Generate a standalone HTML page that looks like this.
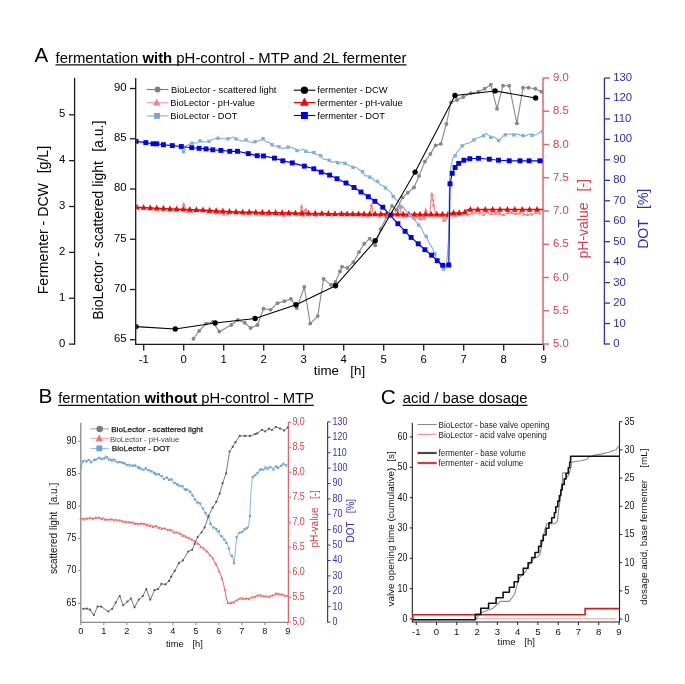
<!DOCTYPE html>
<html><head><meta charset="utf-8"><style>
html,body{margin:0;padding:0;background:#fff;overflow:hidden;}
svg{display:block;filter:blur(0.3px);}
text{font-family:"Liberation Sans",sans-serif;}
</style></head><body>
<svg width="685" height="684" viewBox="0 0 685 684">
<rect width="685" height="684" fill="#fff"/>
<text x="34.5" y="62" font-size="20.5" fill="#000" text-anchor="start" font-weight="normal" >A</text>
<text x="55.5" y="62.6" font-size="14.9">fermentation <tspan font-weight="bold">with</tspan> pH-control - MTP and 2L fermenter</text>
<line x1="55.5" y1="64.9" x2="406.5" y2="64.9" stroke="#111" stroke-width="1.2"/>
<line x1="74.6" y1="78" x2="74.6" y2="344.7" stroke="#1a1a1a" stroke-width="1.3"/>
<line x1="69.1" y1="344.1" x2="74.6" y2="344.1" stroke="#1a1a1a" stroke-width="1.3"/>
<text x="65.4" y="346.7" font-size="11.3" fill="#000" text-anchor="end" font-weight="normal" >0</text>
<line x1="69.1" y1="298.24" x2="74.6" y2="298.24" stroke="#1a1a1a" stroke-width="1.3"/>
<text x="65.4" y="300.84" font-size="11.3" fill="#000" text-anchor="end" font-weight="normal" >1</text>
<line x1="69.1" y1="252.38" x2="74.6" y2="252.38" stroke="#1a1a1a" stroke-width="1.3"/>
<text x="65.4" y="254.98" font-size="11.3" fill="#000" text-anchor="end" font-weight="normal" >2</text>
<line x1="69.1" y1="206.52" x2="74.6" y2="206.52" stroke="#1a1a1a" stroke-width="1.3"/>
<text x="65.4" y="209.12" font-size="11.3" fill="#000" text-anchor="end" font-weight="normal" >3</text>
<line x1="69.1" y1="160.66" x2="74.6" y2="160.66" stroke="#1a1a1a" stroke-width="1.3"/>
<text x="65.4" y="163.26" font-size="11.3" fill="#000" text-anchor="end" font-weight="normal" >4</text>
<line x1="69.1" y1="114.8" x2="74.6" y2="114.8" stroke="#1a1a1a" stroke-width="1.3"/>
<text x="65.4" y="117.4" font-size="11.3" fill="#000" text-anchor="end" font-weight="normal" >5</text>
<text transform="translate(47.9,294.3) rotate(-90)" font-size="14.1" fill="#000" text-anchor="start" >Fermenter - DCW</text>
<text transform="translate(47.9,173.3) rotate(-90)" font-size="14.1" fill="#000" text-anchor="start" >[g/L]</text>
<line x1="135.7" y1="78" x2="135.7" y2="345" stroke="#1a1a1a" stroke-width="1.3"/>
<line x1="130" y1="339.75" x2="135.7" y2="339.75" stroke="#1a1a1a" stroke-width="1.3"/>
<text x="126.5" y="342.05" font-size="11.3" fill="#000" text-anchor="end" font-weight="normal" >65</text>
<line x1="130" y1="289.5" x2="135.7" y2="289.5" stroke="#1a1a1a" stroke-width="1.3"/>
<text x="126.5" y="291.8" font-size="11.3" fill="#000" text-anchor="end" font-weight="normal" >70</text>
<line x1="130" y1="239.25" x2="135.7" y2="239.25" stroke="#1a1a1a" stroke-width="1.3"/>
<text x="126.5" y="241.55" font-size="11.3" fill="#000" text-anchor="end" font-weight="normal" >75</text>
<line x1="130" y1="189" x2="135.7" y2="189" stroke="#1a1a1a" stroke-width="1.3"/>
<text x="126.5" y="191.3" font-size="11.3" fill="#000" text-anchor="end" font-weight="normal" >80</text>
<line x1="130" y1="138.75" x2="135.7" y2="138.75" stroke="#1a1a1a" stroke-width="1.3"/>
<text x="126.5" y="141.05" font-size="11.3" fill="#000" text-anchor="end" font-weight="normal" >85</text>
<line x1="130" y1="88.5" x2="135.7" y2="88.5" stroke="#1a1a1a" stroke-width="1.3"/>
<text x="126.5" y="90.8" font-size="11.3" fill="#000" text-anchor="end" font-weight="normal" >90</text>
<text transform="translate(103.4,319.8) rotate(-90)" font-size="14" fill="#000" text-anchor="start" >BioLector - scattered light</text>
<text transform="translate(103.4,151.8) rotate(-90)" font-size="14" fill="#000" text-anchor="start" >[a.u.]</text>
<line x1="135.1" y1="344.4" x2="543" y2="344.4" stroke="#1a1a1a" stroke-width="1.3"/>
<line x1="143.7" y1="344.4" x2="143.7" y2="350.6" stroke="#1a1a1a" stroke-width="1.3"/>
<text x="143.7" y="362.6" font-size="11.3" fill="#000" text-anchor="middle" font-weight="normal" >-1</text>
<line x1="183.7" y1="344.4" x2="183.7" y2="350.6" stroke="#1a1a1a" stroke-width="1.3"/>
<text x="183.7" y="362.6" font-size="11.3" fill="#000" text-anchor="middle" font-weight="normal" >0</text>
<line x1="223.7" y1="344.4" x2="223.7" y2="350.6" stroke="#1a1a1a" stroke-width="1.3"/>
<text x="223.7" y="362.6" font-size="11.3" fill="#000" text-anchor="middle" font-weight="normal" >1</text>
<line x1="263.7" y1="344.4" x2="263.7" y2="350.6" stroke="#1a1a1a" stroke-width="1.3"/>
<text x="263.7" y="362.6" font-size="11.3" fill="#000" text-anchor="middle" font-weight="normal" >2</text>
<line x1="303.7" y1="344.4" x2="303.7" y2="350.6" stroke="#1a1a1a" stroke-width="1.3"/>
<text x="303.7" y="362.6" font-size="11.3" fill="#000" text-anchor="middle" font-weight="normal" >3</text>
<line x1="343.7" y1="344.4" x2="343.7" y2="350.6" stroke="#1a1a1a" stroke-width="1.3"/>
<text x="343.7" y="362.6" font-size="11.3" fill="#000" text-anchor="middle" font-weight="normal" >4</text>
<line x1="383.7" y1="344.4" x2="383.7" y2="350.6" stroke="#1a1a1a" stroke-width="1.3"/>
<text x="383.7" y="362.6" font-size="11.3" fill="#000" text-anchor="middle" font-weight="normal" >5</text>
<line x1="423.7" y1="344.4" x2="423.7" y2="350.6" stroke="#1a1a1a" stroke-width="1.3"/>
<text x="423.7" y="362.6" font-size="11.3" fill="#000" text-anchor="middle" font-weight="normal" >6</text>
<line x1="463.7" y1="344.4" x2="463.7" y2="350.6" stroke="#1a1a1a" stroke-width="1.3"/>
<text x="463.7" y="362.6" font-size="11.3" fill="#000" text-anchor="middle" font-weight="normal" >7</text>
<line x1="503.7" y1="344.4" x2="503.7" y2="350.6" stroke="#1a1a1a" stroke-width="1.3"/>
<text x="503.7" y="362.6" font-size="11.3" fill="#000" text-anchor="middle" font-weight="normal" >8</text>
<line x1="543.7" y1="344.4" x2="543.7" y2="350.6" stroke="#1a1a1a" stroke-width="1.3"/>
<text x="543.7" y="362.6" font-size="11.3" fill="#000" text-anchor="middle" font-weight="normal" >9</text>
<text x="313.8" y="375.1" font-size="13.3" fill="#000" text-anchor="start" font-weight="normal" >time</text>
<text x="350.3" y="375.1" font-size="13.3" fill="#000" text-anchor="start" font-weight="normal" >[h]</text>
<line x1="543" y1="78" x2="543" y2="344.5" stroke="#e0646c" stroke-width="1.5"/>
<line x1="543" y1="344" x2="549" y2="344" stroke="#e0646c" stroke-width="1.4"/>
<text x="553" y="347" font-size="11.3" fill="#d8404a" text-anchor="start" font-weight="normal" >5.0</text>
<line x1="543" y1="310.75" x2="549" y2="310.75" stroke="#e0646c" stroke-width="1.4"/>
<text x="553" y="313.75" font-size="11.3" fill="#d8404a" text-anchor="start" font-weight="normal" >5.5</text>
<line x1="543" y1="277.5" x2="549" y2="277.5" stroke="#e0646c" stroke-width="1.4"/>
<text x="553" y="280.5" font-size="11.3" fill="#d8404a" text-anchor="start" font-weight="normal" >6.0</text>
<line x1="543" y1="244.25" x2="549" y2="244.25" stroke="#e0646c" stroke-width="1.4"/>
<text x="553" y="247.25" font-size="11.3" fill="#d8404a" text-anchor="start" font-weight="normal" >6.5</text>
<line x1="543" y1="211" x2="549" y2="211" stroke="#e0646c" stroke-width="1.4"/>
<text x="553" y="214" font-size="11.3" fill="#d8404a" text-anchor="start" font-weight="normal" >7.0</text>
<line x1="543" y1="177.75" x2="549" y2="177.75" stroke="#e0646c" stroke-width="1.4"/>
<text x="553" y="180.75" font-size="11.3" fill="#d8404a" text-anchor="start" font-weight="normal" >7.5</text>
<line x1="543" y1="144.5" x2="549" y2="144.5" stroke="#e0646c" stroke-width="1.4"/>
<text x="553" y="147.5" font-size="11.3" fill="#d8404a" text-anchor="start" font-weight="normal" >8.0</text>
<line x1="543" y1="111.25" x2="549" y2="111.25" stroke="#e0646c" stroke-width="1.4"/>
<text x="553" y="114.25" font-size="11.3" fill="#d8404a" text-anchor="start" font-weight="normal" >8.5</text>
<line x1="543" y1="78" x2="549" y2="78" stroke="#e0646c" stroke-width="1.4"/>
<text x="553" y="81" font-size="11.3" fill="#d8404a" text-anchor="start" font-weight="normal" >9.0</text>
<text transform="translate(587.5,258.5) rotate(-90)" font-size="14" fill="#d8404a" text-anchor="start" >pH-value</text>
<text transform="translate(587.5,191.5) rotate(-90)" font-size="14" fill="#d8404a" text-anchor="start" >[-]</text>
<line x1="604.4" y1="78" x2="604.4" y2="344.5" stroke="#3434a8" stroke-width="1.3"/>
<line x1="604.4" y1="344" x2="610" y2="344" stroke="#3434a8" stroke-width="1.3"/>
<text x="613.3" y="347" font-size="11.3" fill="#2e2eb0" text-anchor="start" font-weight="normal" >0</text>
<line x1="604.4" y1="323.54" x2="610" y2="323.54" stroke="#3434a8" stroke-width="1.3"/>
<text x="613.3" y="326.54" font-size="11.3" fill="#2e2eb0" text-anchor="start" font-weight="normal" >10</text>
<line x1="604.4" y1="303.08" x2="610" y2="303.08" stroke="#3434a8" stroke-width="1.3"/>
<text x="613.3" y="306.08" font-size="11.3" fill="#2e2eb0" text-anchor="start" font-weight="normal" >20</text>
<line x1="604.4" y1="282.62" x2="610" y2="282.62" stroke="#3434a8" stroke-width="1.3"/>
<text x="613.3" y="285.62" font-size="11.3" fill="#2e2eb0" text-anchor="start" font-weight="normal" >30</text>
<line x1="604.4" y1="262.16" x2="610" y2="262.16" stroke="#3434a8" stroke-width="1.3"/>
<text x="613.3" y="265.16" font-size="11.3" fill="#2e2eb0" text-anchor="start" font-weight="normal" >40</text>
<line x1="604.4" y1="241.7" x2="610" y2="241.7" stroke="#3434a8" stroke-width="1.3"/>
<text x="613.3" y="244.7" font-size="11.3" fill="#2e2eb0" text-anchor="start" font-weight="normal" >50</text>
<line x1="604.4" y1="221.24" x2="610" y2="221.24" stroke="#3434a8" stroke-width="1.3"/>
<text x="613.3" y="224.24" font-size="11.3" fill="#2e2eb0" text-anchor="start" font-weight="normal" >60</text>
<line x1="604.4" y1="200.78" x2="610" y2="200.78" stroke="#3434a8" stroke-width="1.3"/>
<text x="613.3" y="203.78" font-size="11.3" fill="#2e2eb0" text-anchor="start" font-weight="normal" >70</text>
<line x1="604.4" y1="180.32" x2="610" y2="180.32" stroke="#3434a8" stroke-width="1.3"/>
<text x="613.3" y="183.32" font-size="11.3" fill="#2e2eb0" text-anchor="start" font-weight="normal" >80</text>
<line x1="604.4" y1="159.86" x2="610" y2="159.86" stroke="#3434a8" stroke-width="1.3"/>
<text x="613.3" y="162.86" font-size="11.3" fill="#2e2eb0" text-anchor="start" font-weight="normal" >90</text>
<line x1="604.4" y1="139.4" x2="610" y2="139.4" stroke="#3434a8" stroke-width="1.3"/>
<text x="613.3" y="142.4" font-size="11.3" fill="#2e2eb0" text-anchor="start" font-weight="normal" >100</text>
<line x1="604.4" y1="118.94" x2="610" y2="118.94" stroke="#3434a8" stroke-width="1.3"/>
<text x="613.3" y="121.94" font-size="11.3" fill="#2e2eb0" text-anchor="start" font-weight="normal" >110</text>
<line x1="604.4" y1="98.48" x2="610" y2="98.48" stroke="#3434a8" stroke-width="1.3"/>
<text x="613.3" y="101.48" font-size="11.3" fill="#2e2eb0" text-anchor="start" font-weight="normal" >120</text>
<line x1="604.4" y1="78.02" x2="610" y2="78.02" stroke="#3434a8" stroke-width="1.3"/>
<text x="613.3" y="81.02" font-size="11.3" fill="#2e2eb0" text-anchor="start" font-weight="normal" >130</text>
<text transform="translate(647.5,248.8) rotate(-90)" font-size="14" fill="#2e2eb0" text-anchor="start" >DOT</text>
<text transform="translate(647.5,209) rotate(-90)" font-size="14" fill="#2e2eb0" text-anchor="start" >[%]</text>
<defs><clipPath id="clipA"><rect x="136.3" y="70" width="407" height="274"/></clipPath></defs><g clip-path="url(#clipA)">
<polyline points="183.6,203.8 185.6,209.94 187.6,211.52 189.6,209.86 191.6,211.33 193.6,210.9 195.6,210.06 197.6,211.49 199.6,210.16 201.6,211.42 203.6,210.41 205.6,210.56 207.6,211.64 209.6,212.92 211.6,210.9 213.6,211.27 215.6,212.57 217.6,213.61 219.6,212.58 221.6,212.11 223.6,213.93 225.6,211.22 227.6,213.74 229.6,212.11 231.6,211.76 233.6,211.76 235.6,212.41 237.6,213.97 239.6,212.09 241.6,213.31 243.6,213.51 245.6,212.74 247.6,213.29 249.6,211.86 251.6,211.87 253.6,212.34 255.6,213.79 257.6,213.05 259.6,212.74 261.6,213.58 263.6,213.2 265.6,212.77 267.6,214.28 269.6,214.02 271.6,212.68 273.6,213.69 275.6,213.57 277.6,214.65 279.6,214.23 281.6,212.93 283.6,215.04 285.6,212.47 287.6,213.4 289.6,214.44 291.6,212.65 293.6,213.69 295.6,212.36 297.6,214.27 299.6,214.59 301.6,205.7 303.6,214.97 305.6,208.8 307.6,214.48 309.6,214.2 311.6,214.18 313.6,213.84 315.6,215.01 317.6,215.35 319.6,213.97 321.6,214.56 323.6,212.78 325.6,214.72 327.6,214.59 329.6,215.65 331.6,215.16 333.6,213.57 335.6,213.9 337.6,214.78 339.6,212.86 341.6,214.2 343.6,213.35 345.6,213.22 347.6,213.07 349.6,215.22 351.6,213.32 353.6,213.7 355.6,214.15 357.6,215.62 359.6,213.27 361.6,214.4 363.6,214.72 365.6,215.75 367.6,215.58 369.6,215.74 371.6,204.6 373.6,214.44 375.6,214.29 377.6,215.89 379.6,216.14 381.6,213.74 383.6,213.84 385.6,214.03 387.6,214.06 389.6,214.83 391.6,215.17 393.6,214.21 395.6,213.46 397.6,214.73 399.6,205.3 401.6,215.23 403.6,216.43 405.6,215.69 407.6,215.2 409.6,215.55 411.6,215.77 413.6,218.4 415.6,216.52 417.6,216.21 419.6,218.4 421.6,216.34 423.6,218.4 425.6,208.4 427.6,214.39 429.6,216.02 431.6,193.8 433.6,203 435.6,214.87 437.6,214.77 439.6,215.35 441.6,214.52 443.6,220 445.6,221 447.6,214.8 449.6,215.39 451.6,214.13 453.6,216.39 455.6,215.33 457.6,213.65 459.6,213.67 461.6,213.67 463.6,213.44 465.6,212.43 467.6,214.43 469.6,214.71 471.6,213.1 473.6,213.15 475.6,211.96 477.6,212.01 479.6,212.73 481.6,212.49 483.6,214.19 485.6,212.18 487.6,211.77 489.6,214.55 491.6,213.28 493.6,212.14 495.6,213.33 497.6,211.78 499.6,213.28 501.6,214.64 503.6,214.29 505.6,213.79 507.6,212.48 509.6,212.8 511.6,212.2 513.6,214.02 515.6,213.3 517.6,214.04 519.6,212.69 521.6,212.37 523.6,214.13 525.6,214.65 527.6,214.26 529.6,214.12 531.6,214.15 533.6,213.92 535.6,212.38 537.6,213.25 539.6,212.77" fill="none" stroke="#f08a8a" stroke-width="1.2" stroke-linejoin="round" />
<polygon points="181.9,205.5 185.3,205.5 183.6,202.1" fill="#f08a8a"/>
<polygon points="185.9,213.22 189.3,213.22 187.6,209.82" fill="#f08a8a"/>
<polygon points="189.9,213.03 193.3,213.03 191.6,209.63" fill="#f08a8a"/>
<polygon points="193.9,211.76 197.3,211.76 195.6,208.36" fill="#f08a8a"/>
<polygon points="197.9,211.86 201.3,211.86 199.6,208.46" fill="#f08a8a"/>
<polygon points="201.9,212.11 205.3,212.11 203.6,208.71" fill="#f08a8a"/>
<polygon points="205.9,213.34 209.3,213.34 207.6,209.94" fill="#f08a8a"/>
<polygon points="209.9,212.6 213.3,212.6 211.6,209.2" fill="#f08a8a"/>
<polygon points="213.9,214.27 217.3,214.27 215.6,210.87" fill="#f08a8a"/>
<polygon points="217.9,214.28 221.3,214.28 219.6,210.88" fill="#f08a8a"/>
<polygon points="221.9,215.63 225.3,215.63 223.6,212.23" fill="#f08a8a"/>
<polygon points="225.9,215.44 229.3,215.44 227.6,212.04" fill="#f08a8a"/>
<polygon points="229.9,213.46 233.3,213.46 231.6,210.06" fill="#f08a8a"/>
<polygon points="233.9,214.11 237.3,214.11 235.6,210.71" fill="#f08a8a"/>
<polygon points="237.9,213.79 241.3,213.79 239.6,210.39" fill="#f08a8a"/>
<polygon points="241.9,215.21 245.3,215.21 243.6,211.81" fill="#f08a8a"/>
<polygon points="245.9,214.99 249.3,214.99 247.6,211.59" fill="#f08a8a"/>
<polygon points="249.9,213.57 253.3,213.57 251.6,210.17" fill="#f08a8a"/>
<polygon points="253.9,215.49 257.3,215.49 255.6,212.09" fill="#f08a8a"/>
<polygon points="257.9,214.44 261.3,214.44 259.6,211.04" fill="#f08a8a"/>
<polygon points="261.9,214.9 265.3,214.9 263.6,211.5" fill="#f08a8a"/>
<polygon points="265.9,215.98 269.3,215.98 267.6,212.58" fill="#f08a8a"/>
<polygon points="269.9,214.38 273.3,214.38 271.6,210.98" fill="#f08a8a"/>
<polygon points="273.9,215.27 277.3,215.27 275.6,211.87" fill="#f08a8a"/>
<polygon points="277.9,215.93 281.3,215.93 279.6,212.53" fill="#f08a8a"/>
<polygon points="281.9,216.74 285.3,216.74 283.6,213.34" fill="#f08a8a"/>
<polygon points="285.9,215.1 289.3,215.1 287.6,211.7" fill="#f08a8a"/>
<polygon points="289.9,214.35 293.3,214.35 291.6,210.95" fill="#f08a8a"/>
<polygon points="293.9,214.06 297.3,214.06 295.6,210.66" fill="#f08a8a"/>
<polygon points="297.9,216.29 301.3,216.29 299.6,212.89" fill="#f08a8a"/>
<polygon points="301.9,216.67 305.3,216.67 303.6,213.27" fill="#f08a8a"/>
<polygon points="305.9,216.18 309.3,216.18 307.6,212.78" fill="#f08a8a"/>
<polygon points="309.9,215.88 313.3,215.88 311.6,212.48" fill="#f08a8a"/>
<polygon points="313.9,216.71 317.3,216.71 315.6,213.31" fill="#f08a8a"/>
<polygon points="317.9,215.67 321.3,215.67 319.6,212.27" fill="#f08a8a"/>
<polygon points="321.9,214.48 325.3,214.48 323.6,211.08" fill="#f08a8a"/>
<polygon points="325.9,216.29 329.3,216.29 327.6,212.89" fill="#f08a8a"/>
<polygon points="329.9,216.86 333.3,216.86 331.6,213.46" fill="#f08a8a"/>
<polygon points="333.9,215.6 337.3,215.6 335.6,212.2" fill="#f08a8a"/>
<polygon points="337.9,214.56 341.3,214.56 339.6,211.16" fill="#f08a8a"/>
<polygon points="341.9,215.05 345.3,215.05 343.6,211.65" fill="#f08a8a"/>
<polygon points="345.9,214.77 349.3,214.77 347.6,211.37" fill="#f08a8a"/>
<polygon points="349.9,215.02 353.3,215.02 351.6,211.62" fill="#f08a8a"/>
<polygon points="353.9,215.85 357.3,215.85 355.6,212.45" fill="#f08a8a"/>
<polygon points="357.9,214.97 361.3,214.97 359.6,211.57" fill="#f08a8a"/>
<polygon points="361.9,216.42 365.3,216.42 363.6,213.02" fill="#f08a8a"/>
<polygon points="365.9,217.28 369.3,217.28 367.6,213.88" fill="#f08a8a"/>
<polygon points="369.9,206.3 373.3,206.3 371.6,202.9" fill="#f08a8a"/>
<polygon points="373.9,215.99 377.3,215.99 375.6,212.59" fill="#f08a8a"/>
<polygon points="377.9,217.84 381.3,217.84 379.6,214.44" fill="#f08a8a"/>
<polygon points="381.9,215.54 385.3,215.54 383.6,212.14" fill="#f08a8a"/>
<polygon points="385.9,215.76 389.3,215.76 387.6,212.36" fill="#f08a8a"/>
<polygon points="389.9,216.87 393.3,216.87 391.6,213.47" fill="#f08a8a"/>
<polygon points="393.9,215.16 397.3,215.16 395.6,211.76" fill="#f08a8a"/>
<polygon points="397.9,207 401.3,207 399.6,203.6" fill="#f08a8a"/>
<polygon points="401.9,218.13 405.3,218.13 403.6,214.73" fill="#f08a8a"/>
<polygon points="405.9,216.9 409.3,216.9 407.6,213.5" fill="#f08a8a"/>
<polygon points="409.9,217.47 413.3,217.47 411.6,214.07" fill="#f08a8a"/>
<polygon points="413.9,218.22 417.3,218.22 415.6,214.82" fill="#f08a8a"/>
<polygon points="417.9,220.1 421.3,220.1 419.6,216.7" fill="#f08a8a"/>
<polygon points="421.9,220.1 425.3,220.1 423.6,216.7" fill="#f08a8a"/>
<polygon points="425.9,216.09 429.3,216.09 427.6,212.69" fill="#f08a8a"/>
<polygon points="429.9,195.5 433.3,195.5 431.6,192.1" fill="#f08a8a"/>
<polygon points="433.9,216.57 437.3,216.57 435.6,213.17" fill="#f08a8a"/>
<polygon points="437.9,217.05 441.3,217.05 439.6,213.65" fill="#f08a8a"/>
<polygon points="441.9,221.7 445.3,221.7 443.6,218.3" fill="#f08a8a"/>
<polygon points="445.9,216.5 449.3,216.5 447.6,213.1" fill="#f08a8a"/>
<polygon points="449.9,215.83 453.3,215.83 451.6,212.43" fill="#f08a8a"/>
<polygon points="453.9,217.03 457.3,217.03 455.6,213.63" fill="#f08a8a"/>
<polygon points="457.9,215.37 461.3,215.37 459.6,211.97" fill="#f08a8a"/>
<polygon points="461.9,215.14 465.3,215.14 463.6,211.74" fill="#f08a8a"/>
<polygon points="465.9,216.13 469.3,216.13 467.6,212.73" fill="#f08a8a"/>
<polygon points="469.9,214.8 473.3,214.8 471.6,211.4" fill="#f08a8a"/>
<polygon points="473.9,213.66 477.3,213.66 475.6,210.26" fill="#f08a8a"/>
<polygon points="477.9,214.43 481.3,214.43 479.6,211.03" fill="#f08a8a"/>
<polygon points="481.9,215.89 485.3,215.89 483.6,212.49" fill="#f08a8a"/>
<polygon points="485.9,213.47 489.3,213.47 487.6,210.07" fill="#f08a8a"/>
<polygon points="489.9,214.98 493.3,214.98 491.6,211.58" fill="#f08a8a"/>
<polygon points="493.9,215.03 497.3,215.03 495.6,211.63" fill="#f08a8a"/>
<polygon points="497.9,214.98 501.3,214.98 499.6,211.58" fill="#f08a8a"/>
<polygon points="501.9,215.99 505.3,215.99 503.6,212.59" fill="#f08a8a"/>
<polygon points="505.9,214.18 509.3,214.18 507.6,210.78" fill="#f08a8a"/>
<polygon points="509.9,213.9 513.3,213.9 511.6,210.5" fill="#f08a8a"/>
<polygon points="513.9,215 517.3,215 515.6,211.6" fill="#f08a8a"/>
<polygon points="517.9,214.39 521.3,214.39 519.6,210.99" fill="#f08a8a"/>
<polygon points="521.9,215.83 525.3,215.83 523.6,212.43" fill="#f08a8a"/>
<polygon points="525.9,215.96 529.3,215.96 527.6,212.56" fill="#f08a8a"/>
<polygon points="529.9,215.85 533.3,215.85 531.6,212.45" fill="#f08a8a"/>
<polygon points="533.9,214.08 537.3,214.08 535.6,210.68" fill="#f08a8a"/>
<polygon points="537.9,214.47 541.3,214.47 539.6,211.07" fill="#f08a8a"/>
<polygon points="430.4,196.4 434.2,196.4 432.3,192.6" fill="#f08a8a"/>
<polygon points="430.9,201.4 434.7,201.4 432.8,197.6" fill="#f08a8a"/>
<polygon points="431.4,206.4 435.2,206.4 433.3,202.6" fill="#f08a8a"/>
<polygon points="369.4,206.9 373.2,206.9 371.3,203.1" fill="#f08a8a"/>
<polygon points="397.1,207.4 400.9,207.4 399,203.6" fill="#f08a8a"/>
<polygon points="181.7,205.9 185.5,205.9 183.6,202.1" fill="#f08a8a"/>
<polygon points="299.7,207.9 303.5,207.9 301.6,204.1" fill="#f08a8a"/>
<polygon points="303.9,210.9 307.7,210.9 305.8,207.1" fill="#f08a8a"/>
<polygon points="412.3,219.9 416.1,219.9 414.2,216.1" fill="#f08a8a"/>
<polygon points="418.5,220.3 422.3,220.3 420.4,216.5" fill="#f08a8a"/>
<polygon points="422.3,219.9 426.1,219.9 424.2,216.1" fill="#f08a8a"/>
<polygon points="442.1,221.4 445.9,221.4 444,217.6" fill="#f08a8a"/>
<polyline points="136,207.4 137,207.44 138,207.48 139,207.52 140,207.56 141,207.61 142,207.65 143,207.69 144,207.73 145,207.77 146,207.81 147,207.85 148,207.89 149,207.93 150,207.97 151,208.02 152,208.06 153,208.1 154,208.14 155,208.18 156,208.22 157,208.26 158,208.3 159,208.34 160,208.38 161,208.43 162,208.47 163,208.51 164,208.55 165,208.59 166,208.63 167,208.67 168,208.71 169,208.75 170,208.79 171,208.84 172,208.88 173,208.92 174,208.96 175,209 176,209.04 177,209.09 178,209.13 179,209.17 180,209.21 181,209.26 182,209.3 183,209.34 184,209.39 185,209.43 186,209.47 187,209.51 188,209.56 189,209.6 190,209.64 191,209.69 192,209.73 193,209.77 194,209.81 195,209.86 196,209.9 197,209.94 198,209.99 199,210.03 200,210.07 201,210.11 202,210.16 203,210.2 204,210.24 205,210.29 206,210.33 207,210.37 208,210.41 209,210.46 210,210.5 211,210.56 212,210.62 213,210.67 214,210.73 215,210.79 216,210.85 217,210.9 218,210.96 219,211.02 220,211.08 221,211.13 222,211.19 223,211.25 224,211.31 225,211.37 226,211.42 227,211.48 228,211.54 229,211.6 230,211.65 231,211.71 232,211.77 233,211.83 234,211.88 235,211.94 236,212 237,212.02 238,212.04 239,212.06 240,212.07 241,212.09 242,212.11 243,212.13 244,212.15 245,212.17 246,212.19 247,212.2 248,212.22 249,212.24 250,212.26 251,212.28 252,212.3 253,212.31 254,212.33 255,212.35 256,212.37 257,212.39 258,212.41 259,212.43 260,212.44 261,212.46 262,212.48 263,212.5 264,212.52 265,212.54 266,212.56 267,212.57 268,212.59 269,212.61 270,212.63 271,212.65 272,212.67 273,212.69 274,212.7 275,212.72 276,212.74 277,212.76 278,212.78 279,212.8 280,212.81 281,212.83 282,212.85 283,212.87 284,212.89 285,212.91 286,212.93 287,212.94 288,212.96 289,212.98 290,213 291,213.02 292,213.04 293,213.06 294,213.08 295,213.1 296,213.12 297,213.14 298,213.16 299,213.18 300,213.2 301,213.22 302,213.24 303,213.26 304,213.28 305,213.3 306,213.32 307,213.34 308,213.36 309,213.38 310,213.4 311,213.42 312,213.44 313,213.46 314,213.48 315,213.5 316,213.52 317,213.54 318,213.56 319,213.58 320,213.6 321,213.62 322,213.64 323,213.66 324,213.68 325,213.7 326,213.72 327,213.74 328,213.76 329,213.78 330,213.8 331,213.82 332,213.84 333,213.86 334,213.88 335,213.9 336,213.92 337,213.94 338,213.96 339,213.98 340,214 341,214 342,214.01 343,214.01 344,214.02 345,214.03 346,214.03 347,214.03 348,214.04 349,214.05 350,214.05 351,214.06 352,214.06 353,214.06 354,214.07 355,214.07 356,214.08 357,214.09 358,214.09 359,214.09 360,214.1 361,214.11 362,214.11 363,214.12 364,214.12 365,214.12 366,214.13 367,214.13 368,214.14 369,214.15 370,214.15 371,214.16 372,214.16 373,214.17 374,214.17 375,214.18 376,214.18 377,214.19 378,214.19 379,214.19 380,214.2 381,214.21 382,214.21 383,214.22 384,214.22 385,214.23 386,214.23 387,214.24 388,214.24 389,214.25 390,214.25 391,214.25 392,214.26 393,214.27 394,214.27 395,214.28 396,214.28 397,214.29 398,214.29 399,214.3 400,214.3 401,214.3 402,214.31 403,214.31 404,214.32 405,214.32 406,214.32 407,214.33 408,214.33 409,214.34 410,214.34 411,214.35 412,214.35 413,214.35 414,214.36 415,214.36 416,214.37 417,214.37 418,214.37 419,214.38 420,214.38 421,214.39 422,214.39 423,214.39 424,214.4 425,214.4 426,214.41 427,214.41 428,214.42 429,214.42 430,214.42 431,214.43 432,214.43 433,214.44 434,214.44 435,214.44 436,214.45 437,214.45 438,214.46 439,214.46 440,214.46 441,214.47 442,214.47 443,214.48 444,214.48 445,214.49 446,214.49 447,214.49 448,214.5 449,214.25 450,213.75 451,213.25 452,213 453,213 454,213 455,213 456,213 457,213 458,213 459,213 460,213 461,213 462,213 463,213 464,213 465,212.03 466,211.06 467,210.09 468,209.6 469,209.6 470,209.6 471,209.6 472,209.6 473,209.6 474,209.6 475,209.6 476,209.6 477,209.6 478,209.6 479,209.6 480,209.6 481,209.6 482,209.6 483,209.6 484,209.6 485,209.6 486,209.6 487,209.6 488,209.6 489,209.6 490,209.6 491,209.6 492,209.6 493,209.6 494,209.6 495,209.6 496,209.6 497,209.6 498,209.6 499,209.6 500,209.6 501,209.6 502,209.6 503,209.6 504,209.6 505,209.6 506,209.6 507,209.6 508,209.6 509,209.6 510,209.6 511,209.6 512,209.6 513,209.6 514,209.6 515,209.6 516,209.6 517,209.6 518,209.6 519,209.6 520,209.6 521,209.6 522,209.6 523,209.6 524,209.6 525,209.6 526,209.6 527,209.6 528,209.6 529,209.6 530,209.6 531,209.6 532,209.6 533,209.6 534,209.6 535,209.6 536,209.6 537,209.6 538,209.6 539,209.6 540,209.6 541,209.6 542,209.6 543,209.6" fill="none" stroke="#ff0000" stroke-width="1.5" stroke-linejoin="round" />
<polygon points="134.2,209.59 139.8,209.59 137,203.79" fill="#ff0000"/>
<polygon points="140.8,209.86 146.4,209.86 143.6,204.06" fill="#ff0000"/>
<polygon points="147.4,210.13 153,210.13 150.2,204.33" fill="#ff0000"/>
<polygon points="154,210.4 159.6,210.4 156.8,204.6" fill="#ff0000"/>
<polygon points="160.6,210.67 166.2,210.67 163.4,204.87" fill="#ff0000"/>
<polygon points="167.2,210.94 172.8,210.94 170,205.14" fill="#ff0000"/>
<polygon points="173.8,211.22 179.4,211.22 176.6,205.42" fill="#ff0000"/>
<polygon points="180.4,211.5 186,211.5 183.2,205.7" fill="#ff0000"/>
<polygon points="187,211.78 192.6,211.78 189.8,205.98" fill="#ff0000"/>
<polygon points="193.6,212.07 199.2,212.07 196.4,206.27" fill="#ff0000"/>
<polygon points="200.2,212.35 205.8,212.35 203,206.55" fill="#ff0000"/>
<polygon points="206.8,212.63 212.4,212.63 209.6,206.83" fill="#ff0000"/>
<polygon points="213.4,213.01 219,213.01 216.2,207.21" fill="#ff0000"/>
<polygon points="220,213.39 225.6,213.39 222.8,207.59" fill="#ff0000"/>
<polygon points="226.6,213.77 232.2,213.77 229.4,207.97" fill="#ff0000"/>
<polygon points="233.2,214.15 238.8,214.15 236,208.35" fill="#ff0000"/>
<polygon points="239.8,214.27 245.4,214.27 242.6,208.47" fill="#ff0000"/>
<polygon points="246.4,214.39 252,214.39 249.2,208.59" fill="#ff0000"/>
<polygon points="253,214.52 258.6,214.52 255.8,208.72" fill="#ff0000"/>
<polygon points="259.6,214.64 265.2,214.64 262.4,208.84" fill="#ff0000"/>
<polygon points="266.2,214.76 271.8,214.76 269,208.96" fill="#ff0000"/>
<polygon points="272.8,214.88 278.4,214.88 275.6,209.08" fill="#ff0000"/>
<polygon points="279.4,215.01 285,215.01 282.2,209.21" fill="#ff0000"/>
<polygon points="286,215.13 291.6,215.13 288.8,209.33" fill="#ff0000"/>
<polygon points="292.6,215.26 298.2,215.26 295.4,209.46" fill="#ff0000"/>
<polygon points="299.2,215.39 304.8,215.39 302,209.59" fill="#ff0000"/>
<polygon points="305.8,215.52 311.4,215.52 308.6,209.72" fill="#ff0000"/>
<polygon points="312.4,215.65 318,215.65 315.2,209.85" fill="#ff0000"/>
<polygon points="319,215.79 324.6,215.79 321.8,209.99" fill="#ff0000"/>
<polygon points="325.6,215.92 331.2,215.92 328.4,210.12" fill="#ff0000"/>
<polygon points="332.2,216.05 337.8,216.05 335,210.25" fill="#ff0000"/>
<polygon points="338.8,216.16 344.4,216.16 341.6,210.36" fill="#ff0000"/>
<polygon points="344.4,216.19 350,216.19 347.2,210.39" fill="#ff0000"/>
<polygon points="350,216.21 355.6,216.21 352.8,210.41" fill="#ff0000"/>
<polygon points="355.6,216.24 361.2,216.24 358.4,210.44" fill="#ff0000"/>
<polygon points="361.2,216.27 366.8,216.27 364,210.47" fill="#ff0000"/>
<polygon points="366.8,216.3 372.4,216.3 369.6,210.5" fill="#ff0000"/>
<polygon points="372.4,216.33 378,216.33 375.2,210.53" fill="#ff0000"/>
<polygon points="378,216.35 383.6,216.35 380.8,210.55" fill="#ff0000"/>
<polygon points="383.6,216.38 389.2,216.38 386.4,210.58" fill="#ff0000"/>
<polygon points="389.2,216.41 394.8,216.41 392,210.61" fill="#ff0000"/>
<polygon points="394.8,216.44 400.4,216.44 397.6,210.64" fill="#ff0000"/>
<polygon points="400.4,216.46 406,216.46 403.2,210.66" fill="#ff0000"/>
<polygon points="406,216.49 411.6,216.49 408.8,210.69" fill="#ff0000"/>
<polygon points="411.6,216.51 417.2,216.51 414.4,210.71" fill="#ff0000"/>
<polygon points="417.2,216.53 422.8,216.53 420,210.73" fill="#ff0000"/>
<polygon points="422.8,216.56 428.4,216.56 425.6,210.76" fill="#ff0000"/>
<polygon points="428.4,216.58 434,216.58 431.2,210.78" fill="#ff0000"/>
<polygon points="434,216.6 439.6,216.6 436.8,210.8" fill="#ff0000"/>
<polygon points="439.6,216.62 445.2,216.62 442.4,210.82" fill="#ff0000"/>
<polygon points="445.2,216.65 450.8,216.65 448,210.85" fill="#ff0000"/>
<polygon points="450.8,215.15 456.4,215.15 453.6,209.35" fill="#ff0000"/>
<polygon points="456.4,215.15 462,215.15 459.2,209.35" fill="#ff0000"/>
<polygon points="462,214.37 467.6,214.37 464.8,208.57" fill="#ff0000"/>
<polygon points="467.6,211.75 473.2,211.75 470.4,205.95" fill="#ff0000"/>
<polygon points="475,211.75 480.6,211.75 477.8,205.95" fill="#ff0000"/>
<polygon points="482.4,211.75 488,211.75 485.2,205.95" fill="#ff0000"/>
<polygon points="489.8,211.75 495.4,211.75 492.6,205.95" fill="#ff0000"/>
<polygon points="497.2,211.75 502.8,211.75 500,205.95" fill="#ff0000"/>
<polygon points="504.6,211.75 510.2,211.75 507.4,205.95" fill="#ff0000"/>
<polygon points="512,211.75 517.6,211.75 514.8,205.95" fill="#ff0000"/>
<polygon points="519.4,211.75 525,211.75 522.2,205.95" fill="#ff0000"/>
<polygon points="526.8,211.75 532.4,211.75 529.6,205.95" fill="#ff0000"/>
<polygon points="534.2,211.75 539.8,211.75 537,205.95" fill="#ff0000"/>
<polyline points="183.6,151.78 186,145.77 189,144.43 192,143.12 195,143 197.5,142.94 200,140.86 203,141.89 206,141.77 209,141.43 212,139.65 215,138.77 218,138.29 221,138.46 224,138.73 228,138.82 230.4,138.29 232.8,136.89 236,138.95 240,140.4 243,141.28 246,139.92 249,141.67 252,142.57 255,141.73 258,141.15 260.5,139.94 263,138.66 267,142.45 269.5,142.41 272,144.78 274.33,146.23 276.67,145.73 279,146.74 282,148.41 285,148.08 288,147.14 291,147.53 294,148.09 297,150.55 300,150.55 303,149.08 305.85,151.35 308.7,152.25 311.35,152.41 314,152.61 316.2,154.46 318.4,154.71 320.6,155.74 323.3,159.22 326,159.39 329.25,160.27 332.5,162.53 335,161.43 337.5,162.77 340,162.85 342.5,162.25 345,163.35 347.5,164.71 350,165.83 353,167.47 356,167.37 360,170.29 362.5,171.79 365,176.07 367.4,175.72 369.8,177.09 372.2,178.52 374.85,181 377.5,181.39 380.15,184.64 382.8,185.5 385.4,187.88 388,190.16 390.65,192.15 393.3,196.54 396.25,199.53 399.2,202.71 401.4,206.94 403.6,207.48 405.8,210.43 410,215.59 412.85,218.5 415.7,221.25 418.65,225.05 421.6,228.44 423.9,233.64 426.2,236.48 429.4,243.41 432.6,248.35 434.9,253.82 437.2,260.51 440.25,264.42 443.3,269.16 446.4,267.4 448.5,240 449.5,180 450.5,169 452.8,158.18 455.1,155.67 457.5,151.55 459.85,149.04 462.2,145.81 466,143.63 470,142.7 474,139.88 477,138.29 481,136.44 483.6,135.7 486.2,133.12 488.5,135.38 490.8,137.35 494,136.87 496.25,138.55 498.5,140.45 500.75,139.03 503,136.06 505.35,134.87 507.7,134.55 510.75,134.04 513.8,134.93 516.9,134.04 520,135.14 523,135.59 526,136.03 529.1,133.95 532.2,135.26 536,134.92 539.9,132.27 542.5,131.8" fill="none" stroke="#7fb0d8" stroke-width="1.1" stroke-linejoin="round" />
<rect x="181.9" y="150.08" width="3.4" height="3.4" fill="#7fb0d8"/>
<rect x="190.3" y="141.42" width="3.4" height="3.4" fill="#7fb0d8"/>
<rect x="198.3" y="139.16" width="3.4" height="3.4" fill="#7fb0d8"/>
<rect x="207.3" y="139.73" width="3.4" height="3.4" fill="#7fb0d8"/>
<rect x="216.3" y="136.59" width="3.4" height="3.4" fill="#7fb0d8"/>
<rect x="226.3" y="137.12" width="3.4" height="3.4" fill="#7fb0d8"/>
<rect x="234.3" y="137.25" width="3.4" height="3.4" fill="#7fb0d8"/>
<rect x="244.3" y="138.22" width="3.4" height="3.4" fill="#7fb0d8"/>
<rect x="253.3" y="140.03" width="3.4" height="3.4" fill="#7fb0d8"/>
<rect x="261.3" y="136.96" width="3.4" height="3.4" fill="#7fb0d8"/>
<rect x="270.3" y="143.08" width="3.4" height="3.4" fill="#7fb0d8"/>
<rect x="277.3" y="145.04" width="3.4" height="3.4" fill="#7fb0d8"/>
<rect x="286.3" y="145.44" width="3.4" height="3.4" fill="#7fb0d8"/>
<rect x="295.3" y="148.85" width="3.4" height="3.4" fill="#7fb0d8"/>
<rect x="304.15" y="149.65" width="3.4" height="3.4" fill="#7fb0d8"/>
<rect x="312.3" y="150.91" width="3.4" height="3.4" fill="#7fb0d8"/>
<rect x="318.9" y="154.04" width="3.4" height="3.4" fill="#7fb0d8"/>
<rect x="327.55" y="158.57" width="3.4" height="3.4" fill="#7fb0d8"/>
<rect x="335.8" y="161.07" width="3.4" height="3.4" fill="#7fb0d8"/>
<rect x="343.3" y="161.65" width="3.4" height="3.4" fill="#7fb0d8"/>
<rect x="351.3" y="165.77" width="3.4" height="3.4" fill="#7fb0d8"/>
<rect x="360.8" y="170.09" width="3.4" height="3.4" fill="#7fb0d8"/>
<rect x="368.1" y="175.39" width="3.4" height="3.4" fill="#7fb0d8"/>
<rect x="375.8" y="179.69" width="3.4" height="3.4" fill="#7fb0d8"/>
<rect x="383.7" y="186.18" width="3.4" height="3.4" fill="#7fb0d8"/>
<rect x="391.6" y="194.84" width="3.4" height="3.4" fill="#7fb0d8"/>
<rect x="399.7" y="205.24" width="3.4" height="3.4" fill="#7fb0d8"/>
<rect x="408.3" y="213.89" width="3.4" height="3.4" fill="#7fb0d8"/>
<rect x="416.95" y="223.35" width="3.4" height="3.4" fill="#7fb0d8"/>
<rect x="424.5" y="234.78" width="3.4" height="3.4" fill="#7fb0d8"/>
<rect x="433.2" y="252.12" width="3.4" height="3.4" fill="#7fb0d8"/>
<rect x="441.6" y="267.46" width="3.4" height="3.4" fill="#7fb0d8"/>
<rect x="453.4" y="153.97" width="3.4" height="3.4" fill="#7fb0d8"/>
<rect x="460.5" y="144.11" width="3.4" height="3.4" fill="#7fb0d8"/>
<rect x="472.3" y="138.18" width="3.4" height="3.4" fill="#7fb0d8"/>
<rect x="481.9" y="134" width="3.4" height="3.4" fill="#7fb0d8"/>
<rect x="489.1" y="135.65" width="3.4" height="3.4" fill="#7fb0d8"/>
<rect x="496.8" y="138.75" width="3.4" height="3.4" fill="#7fb0d8"/>
<rect x="503.65" y="133.17" width="3.4" height="3.4" fill="#7fb0d8"/>
<rect x="512.1" y="133.23" width="3.4" height="3.4" fill="#7fb0d8"/>
<rect x="521.3" y="133.89" width="3.4" height="3.4" fill="#7fb0d8"/>
<rect x="530.5" y="133.56" width="3.4" height="3.4" fill="#7fb0d8"/>
<rect x="540.8" y="130.1" width="3.4" height="3.4" fill="#7fb0d8"/>
<polyline points="136,141.4 145.8,142.6 153,143.8 156.8,143.8 163.4,144.7 172.3,145.6 181.3,146.5 191.7,147.7 199.1,148.3 206,148.9 212.8,149.8 220.9,150.4 229.8,151.3 237.5,151.3 248.3,153.6 257.2,155.7 263.5,156 274.5,158.1 282.8,160.8 292.3,162.9 304.3,166.1 313.8,168.8 321.2,172.1 329.6,175.1 337,178.7 346,183 354,187.5 361,192 368.3,196.7 374.9,201.3 382.8,207.2 390,215.1 397.9,223.7 405.1,231.3 411.1,237.4 418.2,243.8 424.9,249.7 431.6,255.2 437.2,260.7 442.7,265.3 448.8,265 449.2,240 450,183.8 452.2,173.3 455.1,167.5 458.7,163.4 463.9,160.2 469.8,158.7 478.5,158.3 489.3,159.2 498.5,160.2 509.2,160.8 520,160.8 529.1,160.8 539.9,160.8 543,160.8" fill="none" stroke="#0000f0" stroke-width="1.15" stroke-linejoin="round" />
<rect x="133.55" y="138.95" width="4.9" height="4.9" fill="#0000f0"/>
<rect x="143.35" y="140.15" width="4.9" height="4.9" fill="#0000f0"/>
<rect x="150.55" y="141.35" width="4.9" height="4.9" fill="#0000f0"/>
<rect x="154.35" y="141.35" width="4.9" height="4.9" fill="#0000f0"/>
<rect x="160.95" y="142.25" width="4.9" height="4.9" fill="#0000f0"/>
<rect x="169.85" y="143.15" width="4.9" height="4.9" fill="#0000f0"/>
<rect x="178.85" y="144.05" width="4.9" height="4.9" fill="#0000f0"/>
<rect x="189.25" y="145.25" width="4.9" height="4.9" fill="#0000f0"/>
<rect x="196.65" y="145.85" width="4.9" height="4.9" fill="#0000f0"/>
<rect x="203.55" y="146.45" width="4.9" height="4.9" fill="#0000f0"/>
<rect x="210.35" y="147.35" width="4.9" height="4.9" fill="#0000f0"/>
<rect x="218.45" y="147.95" width="4.9" height="4.9" fill="#0000f0"/>
<rect x="227.35" y="148.85" width="4.9" height="4.9" fill="#0000f0"/>
<rect x="235.05" y="148.85" width="4.9" height="4.9" fill="#0000f0"/>
<rect x="245.85" y="151.15" width="4.9" height="4.9" fill="#0000f0"/>
<rect x="254.75" y="153.25" width="4.9" height="4.9" fill="#0000f0"/>
<rect x="261.05" y="153.55" width="4.9" height="4.9" fill="#0000f0"/>
<rect x="272.05" y="155.65" width="4.9" height="4.9" fill="#0000f0"/>
<rect x="280.35" y="158.35" width="4.9" height="4.9" fill="#0000f0"/>
<rect x="289.85" y="160.45" width="4.9" height="4.9" fill="#0000f0"/>
<rect x="301.85" y="163.65" width="4.9" height="4.9" fill="#0000f0"/>
<rect x="311.35" y="166.35" width="4.9" height="4.9" fill="#0000f0"/>
<rect x="318.75" y="169.65" width="4.9" height="4.9" fill="#0000f0"/>
<rect x="327.15" y="172.65" width="4.9" height="4.9" fill="#0000f0"/>
<rect x="334.55" y="176.25" width="4.9" height="4.9" fill="#0000f0"/>
<rect x="343.55" y="180.55" width="4.9" height="4.9" fill="#0000f0"/>
<rect x="351.55" y="185.05" width="4.9" height="4.9" fill="#0000f0"/>
<rect x="358.55" y="189.55" width="4.9" height="4.9" fill="#0000f0"/>
<rect x="365.85" y="194.25" width="4.9" height="4.9" fill="#0000f0"/>
<rect x="372.45" y="198.85" width="4.9" height="4.9" fill="#0000f0"/>
<rect x="380.35" y="204.75" width="4.9" height="4.9" fill="#0000f0"/>
<rect x="387.55" y="212.65" width="4.9" height="4.9" fill="#0000f0"/>
<rect x="395.45" y="221.25" width="4.9" height="4.9" fill="#0000f0"/>
<rect x="402.65" y="228.85" width="4.9" height="4.9" fill="#0000f0"/>
<rect x="408.65" y="234.95" width="4.9" height="4.9" fill="#0000f0"/>
<rect x="415.75" y="241.35" width="4.9" height="4.9" fill="#0000f0"/>
<rect x="422.45" y="247.25" width="4.9" height="4.9" fill="#0000f0"/>
<rect x="429.15" y="252.75" width="4.9" height="4.9" fill="#0000f0"/>
<rect x="434.75" y="258.25" width="4.9" height="4.9" fill="#0000f0"/>
<rect x="440.25" y="262.85" width="4.9" height="4.9" fill="#0000f0"/>
<rect x="446.35" y="262.55" width="4.9" height="4.9" fill="#0000f0"/>
<rect x="447.55" y="181.35" width="4.9" height="4.9" fill="#0000f0"/>
<rect x="449.75" y="170.85" width="4.9" height="4.9" fill="#0000f0"/>
<rect x="452.65" y="165.05" width="4.9" height="4.9" fill="#0000f0"/>
<rect x="456.25" y="160.95" width="4.9" height="4.9" fill="#0000f0"/>
<rect x="461.45" y="157.75" width="4.9" height="4.9" fill="#0000f0"/>
<rect x="467.35" y="156.25" width="4.9" height="4.9" fill="#0000f0"/>
<rect x="476.05" y="155.85" width="4.9" height="4.9" fill="#0000f0"/>
<rect x="486.85" y="156.75" width="4.9" height="4.9" fill="#0000f0"/>
<rect x="496.05" y="157.75" width="4.9" height="4.9" fill="#0000f0"/>
<rect x="506.75" y="158.35" width="4.9" height="4.9" fill="#0000f0"/>
<rect x="517.55" y="158.35" width="4.9" height="4.9" fill="#0000f0"/>
<rect x="526.65" y="158.35" width="4.9" height="4.9" fill="#0000f0"/>
<rect x="537.45" y="158.35" width="4.9" height="4.9" fill="#0000f0"/>
<polyline points="193.5,338.8 199.1,331 206,323.6 212.8,322 219.4,331.6 231.3,325 237.8,320 244.7,322.7 250.6,328 257.5,325 263.5,308.7 270.6,309.6 277.5,303.3 284.3,301.2 290.9,298.9 296.8,308.1 304.3,287 310.2,323.6 317.7,316.1 323.6,278.9 331,284.9 335.5,281.9 340,271.5 342,266.8 347.3,268 353.5,262.2 359,252.1 364.2,243.8 369.7,238.6 375.2,245.4 380.8,228.9 386.6,216.9 392,205.9 396.3,209.9 402.5,197.4 407.8,192.8 414,187.5 419,176 424.9,161.6 430.4,154 435.6,145.4 440.8,143.9 446.4,124 451,102.5 457,100 463.2,97 470.9,93.3 478.5,91.8 484.7,88.7 490.8,84.7 497,108.7 503,85.7 509.2,85.7 516.9,123.4 523,87.8 528.5,87.8 535.3,88.7 541.4,91.8 543,93" fill="none" stroke="#888888" stroke-width="1.1" stroke-linejoin="round" />
<circle cx="193.5" cy="338.8" r="1.95" fill="#888888"/>
<circle cx="199.1" cy="331" r="1.95" fill="#888888"/>
<circle cx="206" cy="323.6" r="1.95" fill="#888888"/>
<circle cx="212.8" cy="322" r="1.95" fill="#888888"/>
<circle cx="219.4" cy="331.6" r="1.95" fill="#888888"/>
<circle cx="231.3" cy="325" r="1.95" fill="#888888"/>
<circle cx="237.8" cy="320" r="1.95" fill="#888888"/>
<circle cx="244.7" cy="322.7" r="1.95" fill="#888888"/>
<circle cx="250.6" cy="328" r="1.95" fill="#888888"/>
<circle cx="257.5" cy="325" r="1.95" fill="#888888"/>
<circle cx="263.5" cy="308.7" r="1.95" fill="#888888"/>
<circle cx="270.6" cy="309.6" r="1.95" fill="#888888"/>
<circle cx="277.5" cy="303.3" r="1.95" fill="#888888"/>
<circle cx="284.3" cy="301.2" r="1.95" fill="#888888"/>
<circle cx="290.9" cy="298.9" r="1.95" fill="#888888"/>
<circle cx="296.8" cy="308.1" r="1.95" fill="#888888"/>
<circle cx="304.3" cy="287" r="1.95" fill="#888888"/>
<circle cx="310.2" cy="323.6" r="1.95" fill="#888888"/>
<circle cx="317.7" cy="316.1" r="1.95" fill="#888888"/>
<circle cx="323.6" cy="278.9" r="1.95" fill="#888888"/>
<circle cx="331" cy="284.9" r="1.95" fill="#888888"/>
<circle cx="335.5" cy="281.9" r="1.95" fill="#888888"/>
<circle cx="340" cy="271.5" r="1.95" fill="#888888"/>
<circle cx="342" cy="266.8" r="1.95" fill="#888888"/>
<circle cx="347.3" cy="268" r="1.95" fill="#888888"/>
<circle cx="353.5" cy="262.2" r="1.95" fill="#888888"/>
<circle cx="359" cy="252.1" r="1.95" fill="#888888"/>
<circle cx="364.2" cy="243.8" r="1.95" fill="#888888"/>
<circle cx="369.7" cy="238.6" r="1.95" fill="#888888"/>
<circle cx="375.2" cy="245.4" r="1.95" fill="#888888"/>
<circle cx="380.8" cy="228.9" r="1.95" fill="#888888"/>
<circle cx="386.6" cy="216.9" r="1.95" fill="#888888"/>
<circle cx="392" cy="205.9" r="1.95" fill="#888888"/>
<circle cx="396.3" cy="209.9" r="1.95" fill="#888888"/>
<circle cx="402.5" cy="197.4" r="1.95" fill="#888888"/>
<circle cx="407.8" cy="192.8" r="1.95" fill="#888888"/>
<circle cx="414" cy="187.5" r="1.95" fill="#888888"/>
<circle cx="419" cy="176" r="1.95" fill="#888888"/>
<circle cx="424.9" cy="161.6" r="1.95" fill="#888888"/>
<circle cx="430.4" cy="154" r="1.95" fill="#888888"/>
<circle cx="435.6" cy="145.4" r="1.95" fill="#888888"/>
<circle cx="440.8" cy="143.9" r="1.95" fill="#888888"/>
<circle cx="446.4" cy="124" r="1.95" fill="#888888"/>
<circle cx="451" cy="102.5" r="1.95" fill="#888888"/>
<circle cx="457" cy="100" r="1.95" fill="#888888"/>
<circle cx="463.2" cy="97" r="1.95" fill="#888888"/>
<circle cx="470.9" cy="93.3" r="1.95" fill="#888888"/>
<circle cx="478.5" cy="91.8" r="1.95" fill="#888888"/>
<circle cx="484.7" cy="88.7" r="1.95" fill="#888888"/>
<circle cx="490.8" cy="84.7" r="1.95" fill="#888888"/>
<circle cx="497" cy="108.7" r="1.95" fill="#888888"/>
<circle cx="503" cy="85.7" r="1.95" fill="#888888"/>
<circle cx="509.2" cy="85.7" r="1.95" fill="#888888"/>
<circle cx="516.9" cy="123.4" r="1.95" fill="#888888"/>
<circle cx="523" cy="87.8" r="1.95" fill="#888888"/>
<circle cx="528.5" cy="87.8" r="1.95" fill="#888888"/>
<circle cx="535.3" cy="88.7" r="1.95" fill="#888888"/>
<circle cx="541.4" cy="91.8" r="1.95" fill="#888888"/>
<polyline points="136,326.6 175.3,329 215.2,323 255.1,318.5 296,304.8 335.5,285.8 375.2,240.8 415.1,172.1 455,95.5 495.1,90.9 535.6,97.9" fill="none" stroke="#000" stroke-width="1.05" stroke-linejoin="round" />
<circle cx="136" cy="326.6" r="2.7" fill="#000"/>
<circle cx="175.3" cy="329" r="2.7" fill="#000"/>
<circle cx="215.2" cy="323" r="2.7" fill="#000"/>
<circle cx="255.1" cy="318.5" r="2.7" fill="#000"/>
<circle cx="296" cy="304.8" r="2.7" fill="#000"/>
<circle cx="335.5" cy="285.8" r="2.7" fill="#000"/>
<circle cx="375.2" cy="240.8" r="2.7" fill="#000"/>
<circle cx="415.1" cy="172.1" r="2.7" fill="#000"/>
<circle cx="455" cy="95.5" r="2.7" fill="#000"/>
<circle cx="495.1" cy="90.9" r="2.7" fill="#000"/>
<circle cx="535.6" cy="97.9" r="2.7" fill="#000"/>
</g>
<line x1="146.8" y1="89.5" x2="168.4" y2="89.5" stroke="#7a7a7a" stroke-width="1.1"/>
<circle cx="157.6" cy="89.5" r="2.9" fill="#808080"/>
<text x="171" y="93" font-size="9.3" fill="#000" text-anchor="start" font-weight="normal" >BioLector - scattered light</text>
<line x1="146.8" y1="102.8" x2="168.4" y2="102.8" stroke="#f4a0a8" stroke-width="1.3"/>
<polygon points="153.2,105.6 160.2,105.6 156.7,98.6" fill="#ef7f88"/>
<text x="170.3" y="106.1" font-size="9.3" fill="#000" text-anchor="start" font-weight="normal" >BioLector - pH-value</text>
<line x1="146.8" y1="115.9" x2="168.4" y2="115.9" stroke="#8ab4d8" stroke-width="1.1"/>
<rect x="154.1" y="113" width="5.8" height="5.8" fill="#6fa6d3"/>
<text x="170.3" y="119" font-size="9.3" fill="#000" text-anchor="start" font-weight="normal" >BioLector - DOT</text>
<line x1="293.8" y1="90.2" x2="315.4" y2="90.2" stroke="#000" stroke-width="1.1"/>
<circle cx="304.4" cy="90.2" r="3.65" fill="#000"/>
<text x="317.3" y="93.4" font-size="9.3" fill="#000" text-anchor="start" font-weight="normal" >fermenter - DCW</text>
<line x1="293.8" y1="102.6" x2="315.4" y2="102.6" stroke="#ff0000" stroke-width="1.2"/>
<polygon points="299.9,105.7 308.9,105.7 304.4,97.5" fill="#ff0000"/>
<text x="317.3" y="106.1" font-size="9.3" fill="#000" text-anchor="start" font-weight="normal" >fermenter - pH-value</text>
<line x1="293.8" y1="115.5" x2="315.4" y2="115.5" stroke="#0000f0" stroke-width="1.1"/>
<rect x="300.9" y="112" width="7" height="7" fill="#0000f0"/>
<text x="317.3" y="118.8" font-size="9.3" fill="#000" text-anchor="start" font-weight="normal" >fermenter - DOT</text>
<text x="38.6" y="402.6" font-size="20.8" fill="#000" text-anchor="start" font-weight="normal" >B</text>
<text x="58.2" y="402.6" font-size="14.8">fermentation <tspan font-weight="bold">without</tspan> pH-control - MTP</text>
<line x1="58.2" y1="405.4" x2="313.8" y2="405.4" stroke="#111" stroke-width="1.2"/>
<line x1="80.8" y1="422.7" x2="80.8" y2="622.5" stroke="#8a8a8a" stroke-width="1.3"/>
<line x1="78" y1="603.05" x2="80.8" y2="603.05" stroke="#8a8a8a" stroke-width="1"/>
<text transform="translate(76.4,605.65) scale(1,1.16)" font-size="8.9" fill="#111" text-anchor="end" >65</text>
<line x1="78" y1="570.7" x2="80.8" y2="570.7" stroke="#8a8a8a" stroke-width="1"/>
<text transform="translate(76.4,573.3) scale(1,1.16)" font-size="8.9" fill="#111" text-anchor="end" >70</text>
<line x1="78" y1="538.35" x2="80.8" y2="538.35" stroke="#8a8a8a" stroke-width="1"/>
<text transform="translate(76.4,540.95) scale(1,1.16)" font-size="8.9" fill="#111" text-anchor="end" >75</text>
<line x1="78" y1="506" x2="80.8" y2="506" stroke="#8a8a8a" stroke-width="1"/>
<text transform="translate(76.4,508.6) scale(1,1.16)" font-size="8.9" fill="#111" text-anchor="end" >80</text>
<line x1="78" y1="473.65" x2="80.8" y2="473.65" stroke="#8a8a8a" stroke-width="1"/>
<text transform="translate(76.4,476.25) scale(1,1.16)" font-size="8.9" fill="#111" text-anchor="end" >85</text>
<line x1="78" y1="441.3" x2="80.8" y2="441.3" stroke="#8a8a8a" stroke-width="1"/>
<text transform="translate(76.4,443.9) scale(1,1.16)" font-size="8.9" fill="#111" text-anchor="end" >90</text>
<line x1="80.8" y1="622.3" x2="288.4" y2="622.3" stroke="#8a8a8a" stroke-width="1.3"/>
<line x1="80.8" y1="622.3" x2="80.8" y2="625.2" stroke="#8a8a8a" stroke-width="1"/>
<text x="80.8" y="634.4" font-size="9.2" fill="#111" text-anchor="middle" font-weight="normal" >0</text>
<line x1="103.8" y1="622.3" x2="103.8" y2="625.2" stroke="#8a8a8a" stroke-width="1"/>
<text x="103.8" y="634.4" font-size="9.2" fill="#111" text-anchor="middle" font-weight="normal" >1</text>
<line x1="126.8" y1="622.3" x2="126.8" y2="625.2" stroke="#8a8a8a" stroke-width="1"/>
<text x="126.8" y="634.4" font-size="9.2" fill="#111" text-anchor="middle" font-weight="normal" >2</text>
<line x1="149.8" y1="622.3" x2="149.8" y2="625.2" stroke="#8a8a8a" stroke-width="1"/>
<text x="149.8" y="634.4" font-size="9.2" fill="#111" text-anchor="middle" font-weight="normal" >3</text>
<line x1="172.8" y1="622.3" x2="172.8" y2="625.2" stroke="#8a8a8a" stroke-width="1"/>
<text x="172.8" y="634.4" font-size="9.2" fill="#111" text-anchor="middle" font-weight="normal" >4</text>
<line x1="195.8" y1="622.3" x2="195.8" y2="625.2" stroke="#8a8a8a" stroke-width="1"/>
<text x="195.8" y="634.4" font-size="9.2" fill="#111" text-anchor="middle" font-weight="normal" >5</text>
<line x1="218.8" y1="622.3" x2="218.8" y2="625.2" stroke="#8a8a8a" stroke-width="1"/>
<text x="218.8" y="634.4" font-size="9.2" fill="#111" text-anchor="middle" font-weight="normal" >6</text>
<line x1="241.8" y1="622.3" x2="241.8" y2="625.2" stroke="#8a8a8a" stroke-width="1"/>
<text x="241.8" y="634.4" font-size="9.2" fill="#111" text-anchor="middle" font-weight="normal" >7</text>
<line x1="264.8" y1="622.3" x2="264.8" y2="625.2" stroke="#8a8a8a" stroke-width="1"/>
<text x="264.8" y="634.4" font-size="9.2" fill="#111" text-anchor="middle" font-weight="normal" >8</text>
<line x1="287.8" y1="622.3" x2="287.8" y2="625.2" stroke="#8a8a8a" stroke-width="1"/>
<text x="287.8" y="634.4" font-size="9.2" fill="#111" text-anchor="middle" font-weight="normal" >9</text>
<text x="166" y="647.1" font-size="9.4" fill="#111" text-anchor="start" font-weight="normal" >time</text>
<text x="192.5" y="647.1" font-size="9.4" fill="#111" text-anchor="start" font-weight="normal" >[h]</text>
<text transform="translate(57.3,574) rotate(-90)" font-size="10" fill="#111" text-anchor="start" >scattered light</text>
<text transform="translate(57.3,505) rotate(-90)" font-size="10" fill="#111" text-anchor="start" >[a.u.]</text>
<line x1="288.4" y1="422" x2="288.4" y2="622.5" stroke="#e0646c" stroke-width="1.3"/>
<line x1="288.4" y1="622.02" x2="291.2" y2="622.02" stroke="#e0646c" stroke-width="1.1"/>
<text transform="translate(292.4,624.82) scale(1,1.16)" font-size="8.9" fill="#d8404a" text-anchor="start" >5.0</text>
<line x1="288.4" y1="597.06" x2="291.2" y2="597.06" stroke="#e0646c" stroke-width="1.1"/>
<text transform="translate(292.4,599.86) scale(1,1.16)" font-size="8.9" fill="#d8404a" text-anchor="start" >5.5</text>
<line x1="288.4" y1="572.09" x2="291.2" y2="572.09" stroke="#e0646c" stroke-width="1.1"/>
<text transform="translate(292.4,574.89) scale(1,1.16)" font-size="8.9" fill="#d8404a" text-anchor="start" >6.0</text>
<line x1="288.4" y1="547.12" x2="291.2" y2="547.12" stroke="#e0646c" stroke-width="1.1"/>
<text transform="translate(292.4,549.92) scale(1,1.16)" font-size="8.9" fill="#d8404a" text-anchor="start" >6.5</text>
<line x1="288.4" y1="522.16" x2="291.2" y2="522.16" stroke="#e0646c" stroke-width="1.1"/>
<text transform="translate(292.4,524.96) scale(1,1.16)" font-size="8.9" fill="#d8404a" text-anchor="start" >7.0</text>
<line x1="288.4" y1="497.19" x2="291.2" y2="497.19" stroke="#e0646c" stroke-width="1.1"/>
<text transform="translate(292.4,500) scale(1,1.16)" font-size="8.9" fill="#d8404a" text-anchor="start" >7.5</text>
<line x1="288.4" y1="472.23" x2="291.2" y2="472.23" stroke="#e0646c" stroke-width="1.1"/>
<text transform="translate(292.4,475.03) scale(1,1.16)" font-size="8.9" fill="#d8404a" text-anchor="start" >8.0</text>
<line x1="288.4" y1="447.26" x2="291.2" y2="447.26" stroke="#e0646c" stroke-width="1.1"/>
<text transform="translate(292.4,450.06) scale(1,1.16)" font-size="8.9" fill="#d8404a" text-anchor="start" >8.5</text>
<line x1="288.4" y1="422.3" x2="291.2" y2="422.3" stroke="#e0646c" stroke-width="1.1"/>
<text transform="translate(292.4,425.1) scale(1,1.16)" font-size="8.9" fill="#d8404a" text-anchor="start" >9.0</text>
<text transform="translate(318,547.5) rotate(-90)" font-size="10" fill="#d8404a" text-anchor="start" >pH-value</text>
<text transform="translate(318,499) rotate(-90)" font-size="10" fill="#d8404a" text-anchor="start" >[-]</text>
<line x1="327.6" y1="422" x2="327.6" y2="622.5" stroke="#3535b5" stroke-width="1.2"/>
<line x1="327.6" y1="622.1" x2="330.6" y2="622.1" stroke="#3535b5" stroke-width="1"/>
<text transform="translate(332.6,624.9) scale(1,1.16)" font-size="8.9" fill="#3535b5" text-anchor="start" >0</text>
<line x1="327.6" y1="606.7" x2="330.6" y2="606.7" stroke="#3535b5" stroke-width="1"/>
<text transform="translate(332.6,609.5) scale(1,1.16)" font-size="8.9" fill="#3535b5" text-anchor="start" >10</text>
<line x1="327.6" y1="591.3" x2="330.6" y2="591.3" stroke="#3535b5" stroke-width="1"/>
<text transform="translate(332.6,594.1) scale(1,1.16)" font-size="8.9" fill="#3535b5" text-anchor="start" >20</text>
<line x1="327.6" y1="575.9" x2="330.6" y2="575.9" stroke="#3535b5" stroke-width="1"/>
<text transform="translate(332.6,578.7) scale(1,1.16)" font-size="8.9" fill="#3535b5" text-anchor="start" >30</text>
<line x1="327.6" y1="560.5" x2="330.6" y2="560.5" stroke="#3535b5" stroke-width="1"/>
<text transform="translate(332.6,563.3) scale(1,1.16)" font-size="8.9" fill="#3535b5" text-anchor="start" >40</text>
<line x1="327.6" y1="545.1" x2="330.6" y2="545.1" stroke="#3535b5" stroke-width="1"/>
<text transform="translate(332.6,547.9) scale(1,1.16)" font-size="8.9" fill="#3535b5" text-anchor="start" >50</text>
<line x1="327.6" y1="529.7" x2="330.6" y2="529.7" stroke="#3535b5" stroke-width="1"/>
<text transform="translate(332.6,532.5) scale(1,1.16)" font-size="8.9" fill="#3535b5" text-anchor="start" >60</text>
<line x1="327.6" y1="514.3" x2="330.6" y2="514.3" stroke="#3535b5" stroke-width="1"/>
<text transform="translate(332.6,517.1) scale(1,1.16)" font-size="8.9" fill="#3535b5" text-anchor="start" >70</text>
<line x1="327.6" y1="498.9" x2="330.6" y2="498.9" stroke="#3535b5" stroke-width="1"/>
<text transform="translate(332.6,501.7) scale(1,1.16)" font-size="8.9" fill="#3535b5" text-anchor="start" >80</text>
<line x1="327.6" y1="483.5" x2="330.6" y2="483.5" stroke="#3535b5" stroke-width="1"/>
<text transform="translate(332.6,486.3) scale(1,1.16)" font-size="8.9" fill="#3535b5" text-anchor="start" >90</text>
<line x1="327.6" y1="468.1" x2="330.6" y2="468.1" stroke="#3535b5" stroke-width="1"/>
<text transform="translate(332.6,470.9) scale(1,1.16)" font-size="8.9" fill="#3535b5" text-anchor="start" >100</text>
<line x1="327.6" y1="452.7" x2="330.6" y2="452.7" stroke="#3535b5" stroke-width="1"/>
<text transform="translate(332.6,455.5) scale(1,1.16)" font-size="8.9" fill="#3535b5" text-anchor="start" >110</text>
<line x1="327.6" y1="437.3" x2="330.6" y2="437.3" stroke="#3535b5" stroke-width="1"/>
<text transform="translate(332.6,440.1) scale(1,1.16)" font-size="8.9" fill="#3535b5" text-anchor="start" >120</text>
<line x1="327.6" y1="421.9" x2="330.6" y2="421.9" stroke="#3535b5" stroke-width="1"/>
<text transform="translate(332.6,424.7) scale(1,1.16)" font-size="8.9" fill="#3535b5" text-anchor="start" >130</text>
<text transform="translate(354.3,542.5) rotate(-90)" font-size="10" fill="#3535b5" text-anchor="start" >DOT</text>
<text transform="translate(354.3,513.3) rotate(-90)" font-size="10" fill="#3535b5" text-anchor="start" >[%]</text>
<polyline points="80.8,518.53 82.3,518.63 83.8,519.08 85.3,518.38 86.8,518.38 88.3,518.44 89.8,517.82 91.3,518.22 92.8,518.33 94.3,518.5 95.8,517.46 97.3,517.7 98.8,517.34 100.3,518.5 101.8,518.56 103.3,517.87 104.8,519.4 106.3,519.6 107.8,519.39 109.3,519.56 110.8,519.12 112.3,519.12 113.8,520.03 115.3,519.57 116.8,519.95 118.3,520.22 119.8,520.12 121.3,520.92 122.8,521.08 124.3,521.84 125.8,521.58 127.3,521.94 128.8,521.95 130.3,522.39 131.8,522.31 133.3,522.26 134.8,523.48 136.3,523.68 137.8,523.67 139.3,523.69 140.8,523.37 142.3,523.5 143.8,523.84 145.3,523.78 146.8,525.01 148.3,524.74 149.8,525.63 151.3,525.33 152.8,526.48 154.3,526.67 155.8,525.83 157.3,526.47 158.8,527.8 160.3,527.54 161.8,528.65 163.3,528.24 164.8,528.19 166.3,529.36 167.8,529.97 169.3,529.66 170.8,529.81 172.3,530.64 173.8,532.12 175.3,532.43 176.8,532.12 178.3,532.9 179.8,533.29 181.3,533.83 182.8,535.57 184.3,535.46 185.8,536.75 187.3,537.35 188.8,537.75 190.3,539.26 191.8,539.18 193.3,540.65 194.8,541.02 196.3,542.57 197.8,543.41 199.3,544.62 200.8,546.73 202.3,547.62 203.8,548.31 205.3,550.61 206.8,551.15 208.3,552.88 209.8,555.01 211.3,556.4 212.8,558.14 214.3,561.89 215.8,563.76 217.3,566.78 218.8,570.75 220.3,573.71 221.8,577.99 223.3,583.12 224.8,589.72 226.3,597.53 227.8,602.57 229.3,603.5 230.8,602.6 232.3,602.13 233.8,602.09 235.3,600.68 236.8,600.05 238.3,599.83 239.8,598.31 241.3,597.7 242.8,598.5 244.3,598.78 245.8,598.38 247.3,598.63 248.8,598.83 250.3,598.54 251.8,596.93 253.3,597.43 254.8,596.78 256.3,595.84 257.8,595.37 259.3,595.11 260.8,595.2 262.3,596.67 263.8,595.84 265.3,596.67 266.8,596.22 268.3,596.91 269.8,596.4 271.3,595.8 272.8,595.15 274.3,595.16 275.8,593.5 277.3,593.16 278.8,593.8 280.3,594.39 281.8,594.24 283.3,594.37 284.8,595.92 286.3,595.59 287.8,595.76" fill="none" stroke="#ec7272" stroke-width="1.1" stroke-linejoin="round" />
<polygon points="79.4,519.93 82.2,519.93 80.8,517.13" fill="#ec7272"/>
<polygon points="82.4,520.48 85.2,520.48 83.8,517.68" fill="#ec7272"/>
<polygon points="85.4,519.78 88.2,519.78 86.8,516.98" fill="#ec7272"/>
<polygon points="88.4,519.22 91.2,519.22 89.8,516.42" fill="#ec7272"/>
<polygon points="91.4,519.73 94.2,519.73 92.8,516.93" fill="#ec7272"/>
<polygon points="94.4,518.86 97.2,518.86 95.8,516.06" fill="#ec7272"/>
<polygon points="97.4,518.74 100.2,518.74 98.8,515.94" fill="#ec7272"/>
<polygon points="100.4,519.96 103.2,519.96 101.8,517.16" fill="#ec7272"/>
<polygon points="103.4,520.8 106.2,520.8 104.8,518" fill="#ec7272"/>
<polygon points="106.4,520.79 109.2,520.79 107.8,517.99" fill="#ec7272"/>
<polygon points="109.4,520.52 112.2,520.52 110.8,517.72" fill="#ec7272"/>
<polygon points="112.4,521.43 115.2,521.43 113.8,518.63" fill="#ec7272"/>
<polygon points="115.4,521.35 118.2,521.35 116.8,518.55" fill="#ec7272"/>
<polygon points="118.4,521.52 121.2,521.52 119.8,518.72" fill="#ec7272"/>
<polygon points="121.4,522.48 124.2,522.48 122.8,519.68" fill="#ec7272"/>
<polygon points="124.4,522.98 127.2,522.98 125.8,520.18" fill="#ec7272"/>
<polygon points="127.4,523.35 130.2,523.35 128.8,520.55" fill="#ec7272"/>
<polygon points="130.4,523.71 133.2,523.71 131.8,520.91" fill="#ec7272"/>
<polygon points="133.4,524.88 136.2,524.88 134.8,522.08" fill="#ec7272"/>
<polygon points="136.4,525.07 139.2,525.07 137.8,522.27" fill="#ec7272"/>
<polygon points="139.4,524.77 142.2,524.77 140.8,521.97" fill="#ec7272"/>
<polygon points="142.4,525.24 145.2,525.24 143.8,522.44" fill="#ec7272"/>
<polygon points="145.4,526.41 148.2,526.41 146.8,523.61" fill="#ec7272"/>
<polygon points="148.4,527.03 151.2,527.03 149.8,524.23" fill="#ec7272"/>
<polygon points="151.4,527.88 154.2,527.88 152.8,525.08" fill="#ec7272"/>
<polygon points="154.4,527.23 157.2,527.23 155.8,524.43" fill="#ec7272"/>
<polygon points="157.4,529.2 160.2,529.2 158.8,526.4" fill="#ec7272"/>
<polygon points="160.4,530.05 163.2,530.05 161.8,527.25" fill="#ec7272"/>
<polygon points="163.4,529.59 166.2,529.59 164.8,526.79" fill="#ec7272"/>
<polygon points="166.4,531.37 169.2,531.37 167.8,528.57" fill="#ec7272"/>
<polygon points="169.4,531.21 172.2,531.21 170.8,528.41" fill="#ec7272"/>
<polygon points="172.4,533.52 175.2,533.52 173.8,530.72" fill="#ec7272"/>
<polygon points="175.4,533.52 178.2,533.52 176.8,530.72" fill="#ec7272"/>
<polygon points="178.4,534.69 181.2,534.69 179.8,531.89" fill="#ec7272"/>
<polygon points="181.4,536.97 184.2,536.97 182.8,534.17" fill="#ec7272"/>
<polygon points="184.4,538.15 187.2,538.15 185.8,535.35" fill="#ec7272"/>
<polygon points="187.4,539.15 190.2,539.15 188.8,536.35" fill="#ec7272"/>
<polygon points="190.4,540.58 193.2,540.58 191.8,537.78" fill="#ec7272"/>
<polygon points="193.4,542.42 196.2,542.42 194.8,539.62" fill="#ec7272"/>
<polygon points="196.4,544.81 199.2,544.81 197.8,542.01" fill="#ec7272"/>
<polygon points="199.4,548.13 202.2,548.13 200.8,545.33" fill="#ec7272"/>
<polygon points="202.4,549.71 205.2,549.71 203.8,546.91" fill="#ec7272"/>
<polygon points="205.4,552.55 208.2,552.55 206.8,549.75" fill="#ec7272"/>
<polygon points="208.4,556.41 211.2,556.41 209.8,553.61" fill="#ec7272"/>
<polygon points="211.4,559.54 214.2,559.54 212.8,556.74" fill="#ec7272"/>
<polygon points="214.4,565.16 217.2,565.16 215.8,562.36" fill="#ec7272"/>
<polygon points="217.4,572.15 220.2,572.15 218.8,569.35" fill="#ec7272"/>
<polygon points="220.4,579.39 223.2,579.39 221.8,576.59" fill="#ec7272"/>
<polygon points="223.4,591.12 226.2,591.12 224.8,588.32" fill="#ec7272"/>
<polygon points="226.4,603.97 229.2,603.97 227.8,601.17" fill="#ec7272"/>
<polygon points="229.4,604 232.2,604 230.8,601.2" fill="#ec7272"/>
<polygon points="232.4,603.49 235.2,603.49 233.8,600.69" fill="#ec7272"/>
<polygon points="235.4,601.45 238.2,601.45 236.8,598.65" fill="#ec7272"/>
<polygon points="238.4,599.71 241.2,599.71 239.8,596.91" fill="#ec7272"/>
<polygon points="241.4,599.9 244.2,599.9 242.8,597.1" fill="#ec7272"/>
<polygon points="244.4,599.78 247.2,599.78 245.8,596.98" fill="#ec7272"/>
<polygon points="247.4,600.23 250.2,600.23 248.8,597.43" fill="#ec7272"/>
<polygon points="250.4,598.33 253.2,598.33 251.8,595.53" fill="#ec7272"/>
<polygon points="253.4,598.18 256.2,598.18 254.8,595.38" fill="#ec7272"/>
<polygon points="256.4,596.77 259.2,596.77 257.8,593.97" fill="#ec7272"/>
<polygon points="259.4,596.6 262.2,596.6 260.8,593.8" fill="#ec7272"/>
<polygon points="262.4,597.24 265.2,597.24 263.8,594.44" fill="#ec7272"/>
<polygon points="265.4,597.62 268.2,597.62 266.8,594.82" fill="#ec7272"/>
<polygon points="268.4,597.8 271.2,597.8 269.8,595" fill="#ec7272"/>
<polygon points="271.4,596.55 274.2,596.55 272.8,593.75" fill="#ec7272"/>
<polygon points="274.4,594.9 277.2,594.9 275.8,592.1" fill="#ec7272"/>
<polygon points="277.4,595.2 280.2,595.2 278.8,592.4" fill="#ec7272"/>
<polygon points="280.4,595.64 283.2,595.64 281.8,592.84" fill="#ec7272"/>
<polygon points="283.4,597.32 286.2,597.32 284.8,594.52" fill="#ec7272"/>
<polygon points="286.4,597.16 289.2,597.16 287.8,594.36" fill="#ec7272"/>
<polyline points="80.8,467.26 82.1,464 83.4,460.69 84.7,460.35 86,460.75 87.3,461.18 88.6,459.55 89.9,460.08 91.2,461.51 92.5,461.54 93.8,460.24 95.1,460.1 96.4,459.63 97.7,458.08 99,457.61 100.3,457.35 101.6,459.76 102.9,458.64 104.2,459.03 105.5,455.57 106.8,457.91 108.1,458.04 109.4,459.45 110.7,458.56 112,461 113.3,458.3 114.6,460.07 115.9,461.03 117.2,461.94 118.5,461.81 119.8,462.09 121.1,462.75 122.4,463.51 123.7,462.08 125,463.52 126.3,464.58 127.6,464.86 128.9,463.81 130.2,465.42 131.5,466.06 132.8,465.54 134.1,466.12 135.4,465.74 136.7,466.75 138,467.21 139.3,465.89 140.6,468.05 141.9,469.55 143.2,469.58 144.5,469.49 145.8,468.79 147.1,470.3 148.4,470.2 149.7,470.16 151,472.08 152.3,470.32 153.6,473.1 154.9,471.45 156.2,473.94 157.5,474.3 158.8,474.24 160.1,476.48 161.4,476.58 162.7,477.69 164,479.15 165.3,477.41 166.6,477.02 167.9,478.33 169.2,479.93 170.5,478.92 171.8,479.5 173.1,482.56 174.4,482.46 175.7,482.46 177,484.77 178.3,483.84 179.6,485.81 180.9,485.19 182.2,486.81 183.5,488.86 184.8,490.06 186.1,490.81 187.4,490.08 188.7,491.57 190,492.01 191.3,492.74 192.6,495.19 193.9,497.58 195.2,499.07 196.5,500.27 197.8,502.67 199.1,502.16 200.4,503.96 201.7,507.06 203,508.66 204.3,510.56 205.6,513.3 206.9,516.11 208.2,517.88 209.5,519.5 210.8,523.69 212.1,526.74 213.4,527.55 214.7,527.64 216,528.8 217.3,532.79 218.6,531.45 219.9,534.91 221.2,535.8 222.5,536.29 223.8,539.92 225.1,539.6 226.4,542.22 227.7,545.79 229,547.82 230.3,555.19 231.6,556.28 232.9,558.2 234.2,562.89 235.5,548.71 236.8,537.83 238.1,533.7 239.4,532.86 240.7,532.58 242,532.54 243.3,531.14 244.6,529.06 245.9,529.61 247.2,528.4 248.5,527.36 249.8,515.36 251.1,490.06 252.4,477.6 253.7,475.91 255,474.89 256.3,474.73 257.6,472.74 258.9,471.32 260.2,470.31 261.5,469.05 262.8,470.23 264.1,470.51 265.4,467.56 266.7,469.93 268,468.91 269.3,466.81 270.6,467.63 271.9,467.97 273.2,468.68 274.5,466.7 275.8,467.02 277.1,467.72 278.4,467.14 279.7,467.27 281,465.39 282.3,465.64 283.6,463.92 284.9,465.31 286.2,465.36" fill="none" stroke="#78aad6" stroke-width="0.9" stroke-linejoin="round" />
<rect x="79.76" y="466.46" width="2.3" height="2.3" fill="#6fa6d3"/>
<rect x="82.02" y="460.18" width="2.3" height="2.3" fill="#6fa6d3"/>
<rect x="85.23" y="460.36" width="2.3" height="2.3" fill="#6fa6d3"/>
<rect x="87.48" y="458.87" width="2.3" height="2.3" fill="#6fa6d3"/>
<rect x="89.91" y="461.02" width="2.3" height="2.3" fill="#6fa6d3"/>
<rect x="92.93" y="458.85" width="2.3" height="2.3" fill="#6fa6d3"/>
<rect x="94.92" y="458.39" width="2.3" height="2.3" fill="#6fa6d3"/>
<rect x="97.89" y="456.89" width="2.3" height="2.3" fill="#6fa6d3"/>
<rect x="100.44" y="457.86" width="2.3" height="2.3" fill="#6fa6d3"/>
<rect x="103.3" y="457.19" width="2.3" height="2.3" fill="#6fa6d3"/>
<rect x="105.89" y="456.24" width="2.3" height="2.3" fill="#6fa6d3"/>
<rect x="108.12" y="458.76" width="2.3" height="2.3" fill="#6fa6d3"/>
<rect x="110.56" y="459.29" width="2.3" height="2.3" fill="#6fa6d3"/>
<rect x="113.46" y="459.28" width="2.3" height="2.3" fill="#6fa6d3"/>
<rect x="116.32" y="461.09" width="2.3" height="2.3" fill="#6fa6d3"/>
<rect x="119.01" y="460.93" width="2.3" height="2.3" fill="#6fa6d3"/>
<rect x="121.61" y="461.7" width="2.3" height="2.3" fill="#6fa6d3"/>
<rect x="123.63" y="462.41" width="2.3" height="2.3" fill="#6fa6d3"/>
<rect x="126.28" y="464.08" width="2.3" height="2.3" fill="#6fa6d3"/>
<rect x="129.16" y="464.3" width="2.3" height="2.3" fill="#6fa6d3"/>
<rect x="131.92" y="464.49" width="2.3" height="2.3" fill="#6fa6d3"/>
<rect x="134.1" y="464.4" width="2.3" height="2.3" fill="#6fa6d3"/>
<rect x="137.13" y="466.7" width="2.3" height="2.3" fill="#6fa6d3"/>
<rect x="139.22" y="467.46" width="2.3" height="2.3" fill="#6fa6d3"/>
<rect x="142.42" y="468.47" width="2.3" height="2.3" fill="#6fa6d3"/>
<rect x="144.71" y="467.16" width="2.3" height="2.3" fill="#6fa6d3"/>
<rect x="147.28" y="469.05" width="2.3" height="2.3" fill="#6fa6d3"/>
<rect x="149.93" y="470.18" width="2.3" height="2.3" fill="#6fa6d3"/>
<rect x="152.83" y="471.98" width="2.3" height="2.3" fill="#6fa6d3"/>
<rect x="154.97" y="473.27" width="2.3" height="2.3" fill="#6fa6d3"/>
<rect x="157.7" y="473.07" width="2.3" height="2.3" fill="#6fa6d3"/>
<rect x="160.4" y="474.73" width="2.3" height="2.3" fill="#6fa6d3"/>
<rect x="162.88" y="477.86" width="2.3" height="2.3" fill="#6fa6d3"/>
<rect x="165.82" y="476.54" width="2.3" height="2.3" fill="#6fa6d3"/>
<rect x="167.87" y="478.74" width="2.3" height="2.3" fill="#6fa6d3"/>
<rect x="170.35" y="478.25" width="2.3" height="2.3" fill="#6fa6d3"/>
<rect x="173.5" y="481.95" width="2.3" height="2.3" fill="#6fa6d3"/>
<rect x="175.83" y="483.32" width="2.3" height="2.3" fill="#6fa6d3"/>
<rect x="178.2" y="484.85" width="2.3" height="2.3" fill="#6fa6d3"/>
<rect x="181.39" y="485.06" width="2.3" height="2.3" fill="#6fa6d3"/>
<rect x="183.87" y="488.15" width="2.3" height="2.3" fill="#6fa6d3"/>
<rect x="186.01" y="488.49" width="2.3" height="2.3" fill="#6fa6d3"/>
<rect x="189" y="490.58" width="2.3" height="2.3" fill="#6fa6d3"/>
<rect x="191.33" y="494.23" width="2.3" height="2.3" fill="#6fa6d3"/>
<rect x="193.73" y="498.29" width="2.3" height="2.3" fill="#6fa6d3"/>
<rect x="196.35" y="501.54" width="2.3" height="2.3" fill="#6fa6d3"/>
<rect x="199.05" y="502.33" width="2.3" height="2.3" fill="#6fa6d3"/>
<rect x="201.87" y="507.41" width="2.3" height="2.3" fill="#6fa6d3"/>
<rect x="204.35" y="512.01" width="2.3" height="2.3" fill="#6fa6d3"/>
<rect x="207.07" y="516.19" width="2.3" height="2.3" fill="#6fa6d3"/>
<rect x="209.41" y="522.75" width="2.3" height="2.3" fill="#6fa6d3"/>
<rect x="212.36" y="526.45" width="2.3" height="2.3" fill="#6fa6d3"/>
<rect x="215.13" y="527.83" width="2.3" height="2.3" fill="#6fa6d3"/>
<rect x="217.74" y="529.87" width="2.3" height="2.3" fill="#6fa6d3"/>
<rect x="220.24" y="535.14" width="2.3" height="2.3" fill="#6fa6d3"/>
<rect x="222.97" y="538.48" width="2.3" height="2.3" fill="#6fa6d3"/>
<rect x="225.1" y="541.75" width="2.3" height="2.3" fill="#6fa6d3"/>
<rect x="227.62" y="547.47" width="2.3" height="2.3" fill="#6fa6d3"/>
<rect x="230.76" y="554.55" width="2.3" height="2.3" fill="#6fa6d3"/>
<rect x="232.84" y="562.11" width="2.3" height="2.3" fill="#6fa6d3"/>
<rect x="235.46" y="536.03" width="2.3" height="2.3" fill="#6fa6d3"/>
<rect x="238.52" y="531.59" width="2.3" height="2.3" fill="#6fa6d3"/>
<rect x="241.08" y="530.79" width="2.3" height="2.3" fill="#6fa6d3"/>
<rect x="243.37" y="528.21" width="2.3" height="2.3" fill="#6fa6d3"/>
<rect x="245.66" y="526.77" width="2.3" height="2.3" fill="#6fa6d3"/>
<rect x="248.8" y="514.86" width="2.3" height="2.3" fill="#6fa6d3"/>
<rect x="251.62" y="475.83" width="2.3" height="2.3" fill="#6fa6d3"/>
<rect x="253.85" y="474.16" width="2.3" height="2.3" fill="#6fa6d3"/>
<rect x="256.45" y="471.88" width="2.3" height="2.3" fill="#6fa6d3"/>
<rect x="258.8" y="468.47" width="2.3" height="2.3" fill="#6fa6d3"/>
<rect x="261.33" y="468.34" width="2.3" height="2.3" fill="#6fa6d3"/>
<rect x="264.29" y="466.44" width="2.3" height="2.3" fill="#6fa6d3"/>
<rect x="266.9" y="467.2" width="2.3" height="2.3" fill="#6fa6d3"/>
<rect x="269.2" y="466.01" width="2.3" height="2.3" fill="#6fa6d3"/>
<rect x="272.32" y="468.31" width="2.3" height="2.3" fill="#6fa6d3"/>
<rect x="274.99" y="465.22" width="2.3" height="2.3" fill="#6fa6d3"/>
<rect x="276.9" y="466.72" width="2.3" height="2.3" fill="#6fa6d3"/>
<rect x="279.82" y="464.66" width="2.3" height="2.3" fill="#6fa6d3"/>
<rect x="282.31" y="462.71" width="2.3" height="2.3" fill="#6fa6d3"/>
<rect x="285.06" y="464.1" width="2.3" height="2.3" fill="#6fa6d3"/>
<polyline points="83.3,608.8 86.8,608.6 90.1,609.7 93.8,615 97.6,606.6 101.1,606.6 108.3,611.5 112.2,608.8 115.7,602.7 119.7,596 123.2,605.3 127.4,601.6 130.9,598.5 134.5,607.3 138.8,599.6 142.8,596.1 146.3,589.1 150.3,599.6 154.5,590.2 158,589.1 161.5,583.9 165.5,584.4 169,580.9 171.2,576.7 174.7,570.9 178.9,563.2 182.9,560.4 188.2,551.5 192.2,549.8 194.6,544 197.6,537 201.6,532.3 204.6,527.6 208.6,515.9 212.6,507.7 216.3,501.9 219.6,493.7 222.6,483.2 226.1,473.3 229.6,451.6 232.7,446.9 235.5,442.2 239.7,435.9 244.9,435.9 250,435.9 255.4,434 257.2,433.4 261.9,429.9 265,431.5 268.9,428.7 272,430 275.9,426.8 280,428.5 284.1,430.6 287.6,427.5" fill="none" stroke="#555" stroke-width="0.8" stroke-linejoin="round" />
<circle cx="83.3" cy="608.8" r="1.1" fill="#555"/>
<circle cx="86.8" cy="608.6" r="1.1" fill="#555"/>
<circle cx="90.1" cy="609.7" r="1.1" fill="#555"/>
<circle cx="93.8" cy="615" r="1.1" fill="#555"/>
<circle cx="97.6" cy="606.6" r="1.1" fill="#555"/>
<circle cx="101.1" cy="606.6" r="1.1" fill="#555"/>
<circle cx="108.3" cy="611.5" r="1.1" fill="#555"/>
<circle cx="112.2" cy="608.8" r="1.1" fill="#555"/>
<circle cx="115.7" cy="602.7" r="1.1" fill="#555"/>
<circle cx="119.7" cy="596" r="1.1" fill="#555"/>
<circle cx="123.2" cy="605.3" r="1.1" fill="#555"/>
<circle cx="127.4" cy="601.6" r="1.1" fill="#555"/>
<circle cx="130.9" cy="598.5" r="1.1" fill="#555"/>
<circle cx="134.5" cy="607.3" r="1.1" fill="#555"/>
<circle cx="138.8" cy="599.6" r="1.1" fill="#555"/>
<circle cx="142.8" cy="596.1" r="1.1" fill="#555"/>
<circle cx="146.3" cy="589.1" r="1.1" fill="#555"/>
<circle cx="150.3" cy="599.6" r="1.1" fill="#555"/>
<circle cx="154.5" cy="590.2" r="1.1" fill="#555"/>
<circle cx="158" cy="589.1" r="1.1" fill="#555"/>
<circle cx="161.5" cy="583.9" r="1.1" fill="#555"/>
<circle cx="165.5" cy="584.4" r="1.1" fill="#555"/>
<circle cx="169" cy="580.9" r="1.1" fill="#555"/>
<circle cx="171.2" cy="576.7" r="1.1" fill="#555"/>
<circle cx="174.7" cy="570.9" r="1.1" fill="#555"/>
<circle cx="178.9" cy="563.2" r="1.1" fill="#555"/>
<circle cx="182.9" cy="560.4" r="1.1" fill="#555"/>
<circle cx="188.2" cy="551.5" r="1.1" fill="#555"/>
<circle cx="192.2" cy="549.8" r="1.1" fill="#555"/>
<circle cx="194.6" cy="544" r="1.1" fill="#555"/>
<circle cx="197.6" cy="537" r="1.1" fill="#555"/>
<circle cx="201.6" cy="532.3" r="1.1" fill="#555"/>
<circle cx="204.6" cy="527.6" r="1.1" fill="#555"/>
<circle cx="208.6" cy="515.9" r="1.1" fill="#555"/>
<circle cx="212.6" cy="507.7" r="1.1" fill="#555"/>
<circle cx="216.3" cy="501.9" r="1.1" fill="#555"/>
<circle cx="219.6" cy="493.7" r="1.1" fill="#555"/>
<circle cx="222.6" cy="483.2" r="1.1" fill="#555"/>
<circle cx="226.1" cy="473.3" r="1.1" fill="#555"/>
<circle cx="229.6" cy="451.6" r="1.1" fill="#555"/>
<circle cx="232.7" cy="446.9" r="1.1" fill="#555"/>
<circle cx="235.5" cy="442.2" r="1.1" fill="#555"/>
<circle cx="239.7" cy="435.9" r="1.1" fill="#555"/>
<circle cx="244.9" cy="435.9" r="1.1" fill="#555"/>
<circle cx="250" cy="435.9" r="1.1" fill="#555"/>
<circle cx="255.4" cy="434" r="1.1" fill="#555"/>
<circle cx="257.2" cy="433.4" r="1.1" fill="#555"/>
<circle cx="261.9" cy="429.9" r="1.1" fill="#555"/>
<circle cx="265" cy="431.5" r="1.1" fill="#555"/>
<circle cx="268.9" cy="428.7" r="1.1" fill="#555"/>
<circle cx="272" cy="430" r="1.1" fill="#555"/>
<circle cx="275.9" cy="426.8" r="1.1" fill="#555"/>
<circle cx="280" cy="428.5" r="1.1" fill="#555"/>
<circle cx="284.1" cy="430.6" r="1.1" fill="#555"/>
<circle cx="287.6" cy="427.5" r="1.1" fill="#555"/>
<line x1="90.5" y1="428.9" x2="108.9" y2="428.9" stroke="#999" stroke-width="1"/>
<circle cx="99.7" cy="428.9" r="3.25" fill="#7a7a7a"/>
<text x="111.2" y="431.8" font-size="8.1" fill="#1a1a1a" stroke="#1a1a1a" stroke-width="0.25">BioLector - scattered light</text>
<line x1="90.5" y1="438.4" x2="108.9" y2="438.4" stroke="#f2a0a8" stroke-width="1"/>
<polygon points="95.6,441.15 102.8,441.15 99.2,434.45" fill="#ef7080"/>
<text x="109.9" y="441.6" font-size="7.6" fill="#444">BioLector - pH-value</text>
<line x1="90.5" y1="448.4" x2="108.9" y2="448.4" stroke="#8ab8de" stroke-width="1"/>
<rect x="96.4" y="445.5" width="5.8" height="5.8" fill="#68a2d2"/>
<text x="111.8" y="451.3" font-size="8.1" fill="#1a1a1a" stroke="#1a1a1a" stroke-width="0.25">BioLector - DOT</text>
<text x="380.8" y="403.5" font-size="20.8" fill="#000" text-anchor="start" font-weight="normal" >C</text>
<text x="402.8" y="403.4" font-size="14.85" fill="#000" text-anchor="start" font-weight="normal" >acid / base dosage</text>
<line x1="402.6" y1="405.3" x2="527.5" y2="405.3" stroke="#111" stroke-width="1.2"/>
<line x1="412.3" y1="422.8" x2="412.3" y2="622.4" stroke="#222" stroke-width="1.1"/>
<line x1="409.8" y1="619" x2="412.3" y2="619" stroke="#222" stroke-width="1"/>
<text transform="translate(407.4,621.9) scale(1,1.16)" font-size="8.9" fill="#111" text-anchor="end" >0</text>
<line x1="409.8" y1="588.65" x2="412.3" y2="588.65" stroke="#222" stroke-width="1"/>
<text transform="translate(407.4,591.55) scale(1,1.16)" font-size="8.9" fill="#111" text-anchor="end" >10</text>
<line x1="409.8" y1="558.3" x2="412.3" y2="558.3" stroke="#222" stroke-width="1"/>
<text transform="translate(407.4,561.2) scale(1,1.16)" font-size="8.9" fill="#111" text-anchor="end" >20</text>
<line x1="409.8" y1="527.95" x2="412.3" y2="527.95" stroke="#222" stroke-width="1"/>
<text transform="translate(407.4,530.85) scale(1,1.16)" font-size="8.9" fill="#111" text-anchor="end" >30</text>
<line x1="409.8" y1="497.6" x2="412.3" y2="497.6" stroke="#222" stroke-width="1"/>
<text transform="translate(407.4,500.5) scale(1,1.16)" font-size="8.9" fill="#111" text-anchor="end" >40</text>
<line x1="409.8" y1="467.25" x2="412.3" y2="467.25" stroke="#222" stroke-width="1"/>
<text transform="translate(407.4,470.15) scale(1,1.16)" font-size="8.9" fill="#111" text-anchor="end" >50</text>
<line x1="409.8" y1="436.9" x2="412.3" y2="436.9" stroke="#222" stroke-width="1"/>
<text transform="translate(407.4,439.8) scale(1,1.16)" font-size="8.9" fill="#111" text-anchor="end" >60</text>
<line x1="412.3" y1="622" x2="619.5" y2="622" stroke="#222" stroke-width="1.1"/>
<line x1="416.22" y1="622" x2="416.22" y2="625" stroke="#222" stroke-width="1"/>
<text x="416.22" y="634.6" font-size="9.6" fill="#111" text-anchor="middle" font-weight="normal" >-1</text>
<line x1="436.5" y1="622" x2="436.5" y2="625" stroke="#222" stroke-width="1"/>
<text x="436.5" y="634.6" font-size="9.6" fill="#111" text-anchor="middle" font-weight="normal" >0</text>
<line x1="456.78" y1="622" x2="456.78" y2="625" stroke="#222" stroke-width="1"/>
<text x="456.78" y="634.6" font-size="9.6" fill="#111" text-anchor="middle" font-weight="normal" >1</text>
<line x1="477.06" y1="622" x2="477.06" y2="625" stroke="#222" stroke-width="1"/>
<text x="477.06" y="634.6" font-size="9.6" fill="#111" text-anchor="middle" font-weight="normal" >2</text>
<line x1="497.34" y1="622" x2="497.34" y2="625" stroke="#222" stroke-width="1"/>
<text x="497.34" y="634.6" font-size="9.6" fill="#111" text-anchor="middle" font-weight="normal" >3</text>
<line x1="517.62" y1="622" x2="517.62" y2="625" stroke="#222" stroke-width="1"/>
<text x="517.62" y="634.6" font-size="9.6" fill="#111" text-anchor="middle" font-weight="normal" >4</text>
<line x1="537.9" y1="622" x2="537.9" y2="625" stroke="#222" stroke-width="1"/>
<text x="537.9" y="634.6" font-size="9.6" fill="#111" text-anchor="middle" font-weight="normal" >5</text>
<line x1="558.18" y1="622" x2="558.18" y2="625" stroke="#222" stroke-width="1"/>
<text x="558.18" y="634.6" font-size="9.6" fill="#111" text-anchor="middle" font-weight="normal" >6</text>
<line x1="578.46" y1="622" x2="578.46" y2="625" stroke="#222" stroke-width="1"/>
<text x="578.46" y="634.6" font-size="9.6" fill="#111" text-anchor="middle" font-weight="normal" >7</text>
<line x1="598.74" y1="622" x2="598.74" y2="625" stroke="#222" stroke-width="1"/>
<text x="598.74" y="634.6" font-size="9.6" fill="#111" text-anchor="middle" font-weight="normal" >8</text>
<line x1="619.02" y1="622" x2="619.02" y2="625" stroke="#222" stroke-width="1"/>
<text x="619.02" y="634.6" font-size="9.6" fill="#111" text-anchor="middle" font-weight="normal" >9</text>
<text x="497.5" y="645.2" font-size="9.6" fill="#111" text-anchor="start" font-weight="normal" >time</text>
<text x="524.3" y="645.2" font-size="9.6" fill="#111" text-anchor="start" font-weight="normal" >[h]</text>
<line x1="619.5" y1="421.5" x2="619.5" y2="622.4" stroke="#222" stroke-width="1.1"/>
<line x1="619.5" y1="619.1" x2="622.3" y2="619.1" stroke="#222" stroke-width="1"/>
<text transform="translate(624.6,622) scale(1,1.16)" font-size="8.9" fill="#111" text-anchor="start" >0</text>
<line x1="619.5" y1="590.9" x2="622.3" y2="590.9" stroke="#222" stroke-width="1"/>
<text transform="translate(624.6,593.8) scale(1,1.16)" font-size="8.9" fill="#111" text-anchor="start" >5</text>
<line x1="619.5" y1="562.7" x2="622.3" y2="562.7" stroke="#222" stroke-width="1"/>
<text transform="translate(624.6,565.6) scale(1,1.16)" font-size="8.9" fill="#111" text-anchor="start" >10</text>
<line x1="619.5" y1="534.5" x2="622.3" y2="534.5" stroke="#222" stroke-width="1"/>
<text transform="translate(624.6,537.4) scale(1,1.16)" font-size="8.9" fill="#111" text-anchor="start" >15</text>
<line x1="619.5" y1="506.3" x2="622.3" y2="506.3" stroke="#222" stroke-width="1"/>
<text transform="translate(624.6,509.2) scale(1,1.16)" font-size="8.9" fill="#111" text-anchor="start" >20</text>
<line x1="619.5" y1="478.1" x2="622.3" y2="478.1" stroke="#222" stroke-width="1"/>
<text transform="translate(624.6,481) scale(1,1.16)" font-size="8.9" fill="#111" text-anchor="start" >25</text>
<line x1="619.5" y1="449.9" x2="622.3" y2="449.9" stroke="#222" stroke-width="1"/>
<text transform="translate(624.6,452.8) scale(1,1.16)" font-size="8.9" fill="#111" text-anchor="start" >30</text>
<line x1="619.5" y1="421.7" x2="622.3" y2="421.7" stroke="#222" stroke-width="1"/>
<text transform="translate(624.6,424.6) scale(1,1.16)" font-size="8.9" fill="#111" text-anchor="start" >35</text>
<text transform="translate(394.3,606.5) rotate(-90)" font-size="9.9" fill="#111" text-anchor="start" >valve opening time (cumulative)</text>
<text transform="translate(394.3,461.8) rotate(-90)" font-size="9.9" fill="#111" text-anchor="start" >[s]</text>
<text transform="translate(647.3,605) rotate(-90)" font-size="9.9" fill="#111" text-anchor="start" >dosage acid, base fermenter</text>
<text transform="translate(647.3,467.8) rotate(-90)" font-size="9.9" fill="#111" text-anchor="start" >[mL]</text>
<line x1="476.5" y1="618.8" x2="615.4" y2="618.8" stroke="#f0a0a0" stroke-width="1"/>
<polyline points="412.8,619.5 412.8,614.7 585.1,614.7 585.1,608.6 619.5,608.6" fill="none" stroke="#e01818" stroke-width="1.6" stroke-linejoin="round" />
<polyline points="412.3,619.8 475.8,619.5 480.8,612.9 486.9,610.6 493,608.3 496.9,604.5 500.7,601.4 509.2,601.4 514.5,594.5 517.6,583 519.2,578.4 522.2,574.5 525.3,572.2 528.4,566.1 531.4,561.5 534.5,558.1 537.6,556.9 539.9,554.6 541.4,546.9 543,538.4 545,529.1 547,523.7 550.4,523.7 555,523.7 557.3,521.4 558.8,509.1 560.3,498.4 561.1,489.2 562.3,481.5 562.6,473 565,472.6 566.5,475.3 567.6,476.9 569.1,473.8 570.6,468.4 571.9,462.3 574.9,461.5 581.1,460.7 587.2,459.2 588.8,456.9 593.4,455.4 601,454.1 608.7,452.3 616.4,449.5 618,446.9 619.2,446.1" fill="none" stroke="#8c8c8c" stroke-width="1.1" stroke-linejoin="round" />
<polyline points="412.3,619.8 475.3,619.8 475.3,619.8 475.3,614.4 480.8,614.4 480.8,608.3 488.6,608.3 488.6,603.3 496.1,603.3 496.1,597.8 503.1,597.8 503.1,592.2 509.4,592.2 509.4,587.2 514.2,587.2 514.2,581.7 518.3,581.7 518.3,574.7 523.3,574.7 523.3,568.3 528.1,568.3 528.1,562.8 531.7,562.8 531.7,557.5 535,557.5 535,552.5 538.6,552.5 538.6,546.4 541.1,546.4 541.1,540.6 543.3,540.6 543.3,535 546.1,535 546.1,528.3 548.9,528.3 548.9,522.8 551.7,522.8 551.7,517.8 554.4,517.8 554.4,512.8 555.8,512.8 555.8,506.7 557.8,506.7 557.8,501.1 559.4,501.1 559.4,495.6 560.8,495.6 560.8,490 562.2,490 562.2,484.4 564.2,484.4 564.2,478.9 566.1,478.9 566.1,473.3 568.3,473.3 568.3,467.8 569.7,467.8 569.7,462.2 570.6,462.2 570.6,456.3 619.5,456.3" fill="none" stroke="#111" stroke-width="1.6" stroke-linejoin="round" stroke-linejoin="miter"/>
<line x1="417.5" y1="424.5" x2="436.7" y2="424.5" stroke="#888" stroke-width="1"/>
<text transform="translate(438.5,427.9) scale(1,1.12)" font-size="8.1" fill="#222" text-anchor="start" >BioLector - base valve opening</text>
<line x1="417.5" y1="434.3" x2="436.7" y2="434.3" stroke="#f08080" stroke-width="1"/>
<text transform="translate(438.5,437.7) scale(1,1.12)" font-size="8.1" fill="#222" text-anchor="start" >BioLector - acid valve opening</text>
<line x1="417.5" y1="453" x2="436.7" y2="453" stroke="#4a4a4a" stroke-width="2.2"/>
<text transform="translate(438.5,456.3) scale(1,1.12)" font-size="8.1" fill="#222" text-anchor="start" >fermenter - base volume</text>
<line x1="417.5" y1="463" x2="436.7" y2="463" stroke="#e03a3a" stroke-width="2.2"/>
<text transform="translate(438.5,465.7) scale(1,1.12)" font-size="8.1" fill="#222" text-anchor="start" >fermenter - acid volume</text>
</svg></body></html>
